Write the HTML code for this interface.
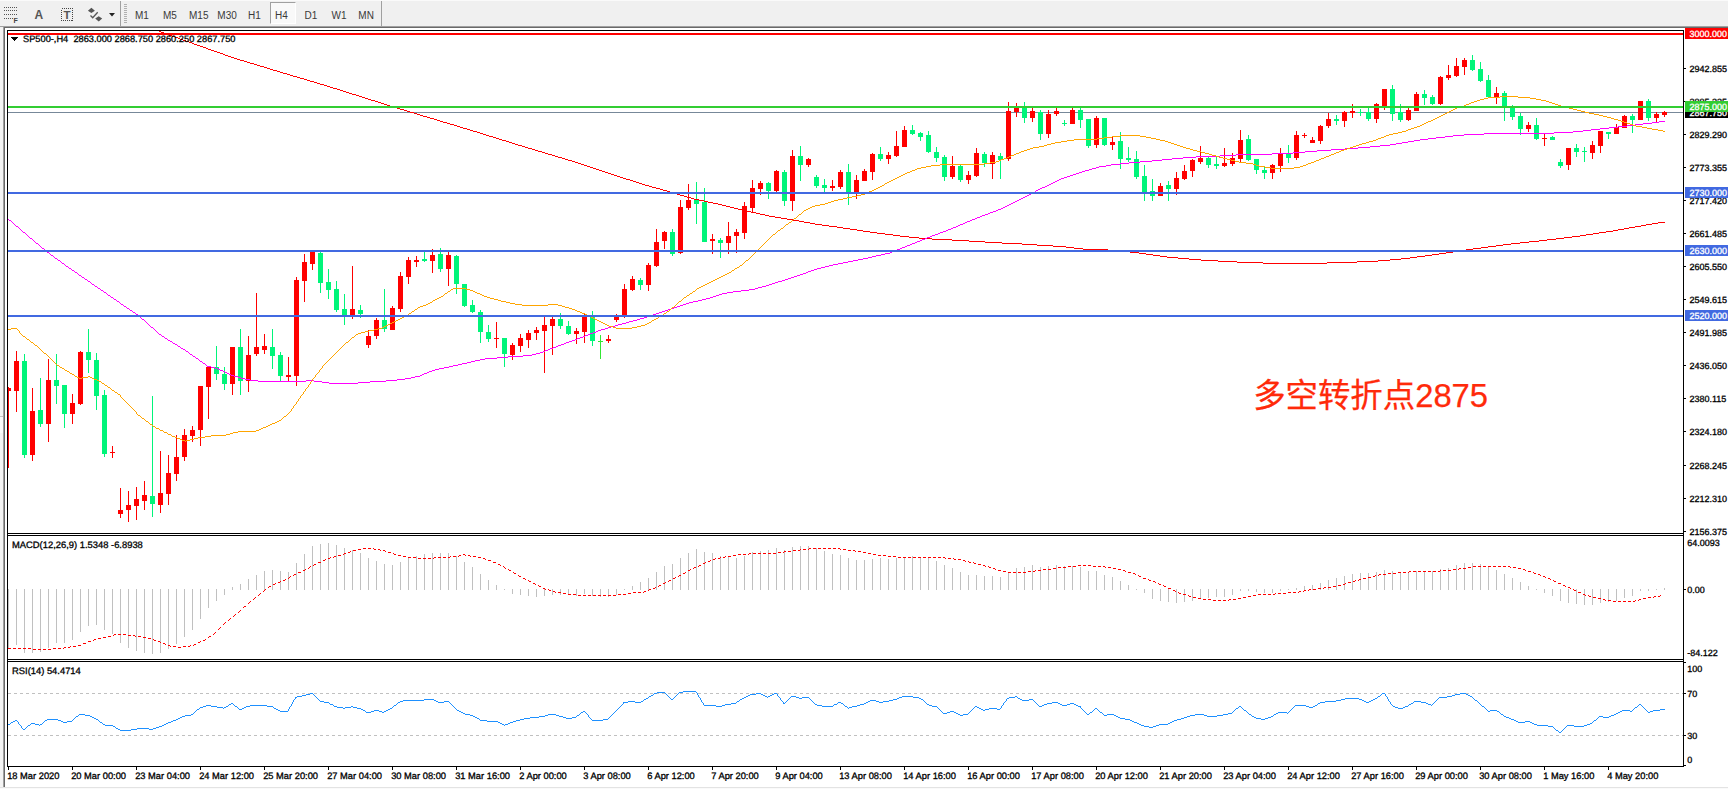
<!DOCTYPE html>
<html><head><meta charset="utf-8"><title>SP500-,H4</title>
<style>
html,body{margin:0;padding:0;background:#f0f0f0;}
body{width:1728px;height:789px;position:relative;overflow:hidden;font-family:"Liberation Sans", sans-serif;}
#tb{position:absolute;left:0;top:0;width:1728px;height:26px;background:#f0f0f0;box-shadow:inset 0 1px 0 #fafafa}
#tb .tf{position:absolute;top:9.8px;font-size:10px;line-height:11px;color:#3a3a3a;white-space:nowrap}
#tb .ic{position:absolute;line-height:1;color:#444}
#h4{position:absolute;left:270px;top:2px;width:26px;height:22px;box-sizing:border-box;background:#f9f9f9;border:1px solid #a0a0a0;border-right-color:#fff;border-bottom-color:#fff}
#chart{position:absolute;left:0;top:0}
#chart text{font-family:"Liberation Sans", sans-serif;white-space:pre;stroke-width:0.3px;paint-order:stroke}
#note{position:absolute;left:1253.2px;top:372.6px;font-family:"Liberation Sans","Noto Sans CJK SC",sans-serif;font-size:32.4px;line-height:46px;color:#ff2a0a;white-space:nowrap;letter-spacing:0px;-webkit-text-stroke:0.25px #ff2a0a}
</style></head><body>
<svg id="chart" width="1728" height="789" viewBox="0 0 1728 789" shape-rendering="crispEdges">
<rect x="5" y="28" width="1723" height="759" fill="#ffffff"/>
<rect x="0" y="28" width="3" height="759" fill="#f4f4f4"/>
<rect x="0" y="416" width="3" height="1" fill="#c4c4c4"/>
<rect x="0" y="417" width="3" height="16" fill="#fbfbfb"/>
<rect x="3" y="26" width="1" height="761" fill="#a0a0a0"/>
<rect x="4" y="27" width="1" height="760" fill="#696969"/>
<rect x="0" y="26" width="1728" height="1" fill="#a0a0a0"/>
<rect x="4" y="27" width="1724" height="1" fill="#696969"/>
<rect x="0" y="787" width="1728" height="1" fill="#e3e3e3"/>
<rect x="0" y="788" width="1728" height="1" fill="#fafafa"/>
<defs><clipPath id="cm"><rect x="8" y="31" width="1675" height="502"/></clipPath></defs>
<g clip-path="url(#cm)">
<rect x="8" y="112" width="1675" height="1" fill="#778899"/>
<rect x="8" y="387" width="1" height="81" fill="#ff0000"/>
<rect x="6" y="388" width="5" height="3" fill="#ff0000"/>
<rect x="16" y="351" width="1" height="61" fill="#ff0000"/>
<rect x="14" y="361" width="5" height="30" fill="#ff0000"/>
<rect x="24" y="354" width="1" height="104" fill="#00f57a"/>
<rect x="22" y="361" width="5" height="94" fill="#00f57a"/>
<rect x="32" y="388" width="1" height="73" fill="#ff0000"/>
<rect x="30" y="411" width="5" height="44" fill="#ff0000"/>
<rect x="40" y="378" width="1" height="49" fill="#00f57a"/>
<rect x="38" y="410" width="5" height="14" fill="#00f57a"/>
<rect x="48" y="359" width="1" height="83" fill="#ff0000"/>
<rect x="46" y="380" width="5" height="44" fill="#ff0000"/>
<rect x="56" y="354" width="1" height="50" fill="#00f57a"/>
<rect x="54" y="380" width="5" height="6" fill="#00f57a"/>
<rect x="64" y="385" width="1" height="43" fill="#00f57a"/>
<rect x="62" y="385" width="5" height="29" fill="#00f57a"/>
<rect x="72" y="394" width="1" height="30" fill="#ff0000"/>
<rect x="70" y="403" width="5" height="11" fill="#ff0000"/>
<rect x="80" y="351" width="1" height="54" fill="#ff0000"/>
<rect x="78" y="352" width="5" height="52" fill="#ff0000"/>
<rect x="88" y="329" width="1" height="44" fill="#00f57a"/>
<rect x="86" y="352" width="5" height="8" fill="#00f57a"/>
<rect x="96" y="353" width="1" height="57" fill="#00f57a"/>
<rect x="94" y="360" width="5" height="36" fill="#00f57a"/>
<rect x="104" y="390" width="1" height="67" fill="#00f57a"/>
<rect x="102" y="395" width="5" height="59" fill="#00f57a"/>
<rect x="112" y="446" width="1" height="12" fill="#ff0000"/>
<rect x="110" y="452" width="5" height="1" fill="#ff0000"/>
<rect x="120" y="488" width="1" height="30" fill="#ff0000"/>
<rect x="118" y="510" width="5" height="4" fill="#ff0000"/>
<rect x="128" y="491" width="1" height="31" fill="#ff0000"/>
<rect x="126" y="505" width="5" height="5" fill="#ff0000"/>
<rect x="136" y="487" width="1" height="33" fill="#ff0000"/>
<rect x="134" y="499" width="5" height="7" fill="#ff0000"/>
<rect x="144" y="481" width="1" height="29" fill="#ff0000"/>
<rect x="142" y="495" width="5" height="6" fill="#ff0000"/>
<rect x="152" y="396" width="1" height="121" fill="#00f57a"/>
<rect x="150" y="496" width="5" height="8" fill="#00f57a"/>
<rect x="160" y="451" width="1" height="62" fill="#ff0000"/>
<rect x="158" y="493" width="5" height="12" fill="#ff0000"/>
<rect x="168" y="455" width="1" height="50" fill="#ff0000"/>
<rect x="166" y="473" width="5" height="21" fill="#ff0000"/>
<rect x="176" y="435" width="1" height="46" fill="#ff0000"/>
<rect x="174" y="457" width="5" height="17" fill="#ff0000"/>
<rect x="184" y="429" width="1" height="32" fill="#ff0000"/>
<rect x="182" y="435" width="5" height="22" fill="#ff0000"/>
<rect x="192" y="426" width="1" height="16" fill="#ff0000"/>
<rect x="190" y="430" width="5" height="6" fill="#ff0000"/>
<rect x="200" y="386" width="1" height="60" fill="#ff0000"/>
<rect x="198" y="386" width="5" height="44" fill="#ff0000"/>
<rect x="208" y="367" width="1" height="52" fill="#ff0000"/>
<rect x="206" y="367" width="5" height="20" fill="#ff0000"/>
<rect x="216" y="346" width="1" height="34" fill="#00f57a"/>
<rect x="214" y="367" width="5" height="7" fill="#00f57a"/>
<rect x="224" y="367" width="1" height="23" fill="#00f57a"/>
<rect x="222" y="374" width="5" height="10" fill="#00f57a"/>
<rect x="232" y="347" width="1" height="48" fill="#ff0000"/>
<rect x="230" y="347" width="5" height="37" fill="#ff0000"/>
<rect x="240" y="329" width="1" height="66" fill="#00f57a"/>
<rect x="238" y="347" width="5" height="34" fill="#00f57a"/>
<rect x="248" y="336" width="1" height="56" fill="#ff0000"/>
<rect x="246" y="355" width="5" height="26" fill="#ff0000"/>
<rect x="256" y="293" width="1" height="63" fill="#ff0000"/>
<rect x="254" y="347" width="5" height="7" fill="#ff0000"/>
<rect x="264" y="334" width="1" height="20" fill="#ff0000"/>
<rect x="262" y="346" width="5" height="4" fill="#ff0000"/>
<rect x="272" y="329" width="1" height="40" fill="#00f57a"/>
<rect x="270" y="347" width="5" height="9" fill="#00f57a"/>
<rect x="280" y="352" width="1" height="29" fill="#00f57a"/>
<rect x="278" y="355" width="5" height="21" fill="#00f57a"/>
<rect x="288" y="357" width="1" height="24" fill="#ff0000"/>
<rect x="286" y="375" width="5" height="2" fill="#ff0000"/>
<rect x="296" y="277" width="1" height="109" fill="#ff0000"/>
<rect x="294" y="280" width="5" height="96" fill="#ff0000"/>
<rect x="304" y="254" width="1" height="48" fill="#ff0000"/>
<rect x="302" y="262" width="5" height="19" fill="#ff0000"/>
<rect x="312" y="251" width="1" height="19" fill="#ff0000"/>
<rect x="310" y="252" width="5" height="12" fill="#ff0000"/>
<rect x="320" y="252" width="1" height="41" fill="#00f57a"/>
<rect x="318" y="253" width="5" height="30" fill="#00f57a"/>
<rect x="328" y="269" width="1" height="30" fill="#00f57a"/>
<rect x="326" y="282" width="5" height="8" fill="#00f57a"/>
<rect x="336" y="281" width="1" height="31" fill="#00f57a"/>
<rect x="334" y="289" width="5" height="21" fill="#00f57a"/>
<rect x="344" y="294" width="1" height="31" fill="#00f57a"/>
<rect x="342" y="309" width="5" height="7" fill="#00f57a"/>
<rect x="352" y="266" width="1" height="53" fill="#ff0000"/>
<rect x="350" y="309" width="5" height="6" fill="#ff0000"/>
<rect x="360" y="305" width="1" height="13" fill="#00f57a"/>
<rect x="358" y="310" width="5" height="4" fill="#00f57a"/>
<rect x="368" y="330" width="1" height="18" fill="#ff0000"/>
<rect x="366" y="336" width="5" height="9" fill="#ff0000"/>
<rect x="376" y="318" width="1" height="21" fill="#ff0000"/>
<rect x="374" y="320" width="5" height="16" fill="#ff0000"/>
<rect x="384" y="289" width="1" height="43" fill="#00f57a"/>
<rect x="382" y="320" width="5" height="9" fill="#00f57a"/>
<rect x="392" y="306" width="1" height="24" fill="#ff0000"/>
<rect x="390" y="308" width="5" height="22" fill="#ff0000"/>
<rect x="400" y="272" width="1" height="40" fill="#ff0000"/>
<rect x="398" y="276" width="5" height="33" fill="#ff0000"/>
<rect x="408" y="257" width="1" height="27" fill="#ff0000"/>
<rect x="406" y="260" width="5" height="17" fill="#ff0000"/>
<rect x="416" y="256" width="1" height="11" fill="#ff0000"/>
<rect x="414" y="260" width="5" height="2" fill="#ff0000"/>
<rect x="424" y="252" width="1" height="10" fill="#00f57a"/>
<rect x="422" y="259" width="5" height="2" fill="#00f57a"/>
<rect x="432" y="249" width="1" height="24" fill="#ff0000"/>
<rect x="430" y="255" width="5" height="6" fill="#ff0000"/>
<rect x="440" y="248" width="1" height="24" fill="#00f57a"/>
<rect x="438" y="254" width="5" height="15" fill="#00f57a"/>
<rect x="448" y="252" width="1" height="34" fill="#ff0000"/>
<rect x="446" y="255" width="5" height="14" fill="#ff0000"/>
<rect x="456" y="255" width="1" height="39" fill="#00f57a"/>
<rect x="454" y="256" width="5" height="28" fill="#00f57a"/>
<rect x="464" y="284" width="1" height="23" fill="#00f57a"/>
<rect x="462" y="284" width="5" height="22" fill="#00f57a"/>
<rect x="472" y="300" width="1" height="13" fill="#00f57a"/>
<rect x="470" y="305" width="5" height="7" fill="#00f57a"/>
<rect x="480" y="310" width="1" height="33" fill="#00f57a"/>
<rect x="478" y="312" width="5" height="20" fill="#00f57a"/>
<rect x="488" y="325" width="1" height="17" fill="#00f57a"/>
<rect x="486" y="332" width="5" height="7" fill="#00f57a"/>
<rect x="496" y="322" width="1" height="26" fill="#ff0000"/>
<rect x="494" y="338" width="5" height="1" fill="#ff0000"/>
<rect x="504" y="338" width="1" height="29" fill="#00f57a"/>
<rect x="502" y="338" width="5" height="16" fill="#00f57a"/>
<rect x="512" y="343" width="1" height="17" fill="#ff0000"/>
<rect x="510" y="345" width="5" height="10" fill="#ff0000"/>
<rect x="520" y="334" width="1" height="18" fill="#ff0000"/>
<rect x="518" y="338" width="5" height="8" fill="#ff0000"/>
<rect x="528" y="330" width="1" height="18" fill="#ff0000"/>
<rect x="526" y="333" width="5" height="7" fill="#ff0000"/>
<rect x="536" y="327" width="1" height="13" fill="#ff0000"/>
<rect x="534" y="330" width="5" height="3" fill="#ff0000"/>
<rect x="544" y="317" width="1" height="56" fill="#ff0000"/>
<rect x="542" y="325" width="5" height="6" fill="#ff0000"/>
<rect x="552" y="317" width="1" height="38" fill="#ff0000"/>
<rect x="550" y="319" width="5" height="7" fill="#ff0000"/>
<rect x="560" y="313" width="1" height="16" fill="#00f57a"/>
<rect x="558" y="319" width="5" height="7" fill="#00f57a"/>
<rect x="568" y="321" width="1" height="14" fill="#00f57a"/>
<rect x="566" y="326" width="5" height="8" fill="#00f57a"/>
<rect x="576" y="328" width="1" height="16" fill="#ff0000"/>
<rect x="574" y="331" width="5" height="3" fill="#ff0000"/>
<rect x="584" y="313" width="1" height="30" fill="#ff0000"/>
<rect x="582" y="315" width="5" height="17" fill="#ff0000"/>
<rect x="592" y="311" width="1" height="35" fill="#00f57a"/>
<rect x="590" y="317" width="5" height="24" fill="#00f57a"/>
<rect x="600" y="335" width="1" height="24" fill="#32e632"/>
<rect x="598" y="341" width="5" height="1" fill="#32e632"/>
<rect x="608" y="335" width="1" height="8" fill="#ff0000"/>
<rect x="606" y="339" width="5" height="2" fill="#ff0000"/>
<rect x="616" y="314" width="1" height="8" fill="#ff0000"/>
<rect x="614" y="317" width="5" height="3" fill="#ff0000"/>
<rect x="624" y="284" width="1" height="34" fill="#ff0000"/>
<rect x="622" y="289" width="5" height="28" fill="#ff0000"/>
<rect x="632" y="276" width="1" height="15" fill="#ff0000"/>
<rect x="630" y="279" width="5" height="11" fill="#ff0000"/>
<rect x="640" y="278" width="1" height="12" fill="#00f57a"/>
<rect x="638" y="280" width="5" height="5" fill="#00f57a"/>
<rect x="648" y="263" width="1" height="28" fill="#ff0000"/>
<rect x="646" y="265" width="5" height="20" fill="#ff0000"/>
<rect x="656" y="229" width="1" height="38" fill="#ff0000"/>
<rect x="654" y="242" width="5" height="24" fill="#ff0000"/>
<rect x="664" y="231" width="1" height="18" fill="#ff0000"/>
<rect x="662" y="232" width="5" height="9" fill="#ff0000"/>
<rect x="672" y="229" width="1" height="27" fill="#00f57a"/>
<rect x="670" y="232" width="5" height="22" fill="#00f57a"/>
<rect x="680" y="200" width="1" height="54" fill="#ff0000"/>
<rect x="678" y="207" width="5" height="46" fill="#ff0000"/>
<rect x="688" y="184" width="1" height="26" fill="#ff0000"/>
<rect x="686" y="200" width="5" height="8" fill="#ff0000"/>
<rect x="696" y="182" width="1" height="42" fill="#00f57a"/>
<rect x="694" y="199" width="5" height="5" fill="#00f57a"/>
<rect x="704" y="188" width="1" height="54" fill="#00f57a"/>
<rect x="702" y="202" width="5" height="40" fill="#00f57a"/>
<rect x="712" y="234" width="1" height="20" fill="#ff0000"/>
<rect x="710" y="239" width="5" height="2" fill="#ff0000"/>
<rect x="720" y="238" width="1" height="20" fill="#00f57a"/>
<rect x="718" y="240" width="5" height="3" fill="#00f57a"/>
<rect x="728" y="222" width="1" height="32" fill="#ff0000"/>
<rect x="726" y="236" width="5" height="7" fill="#ff0000"/>
<rect x="736" y="229" width="1" height="24" fill="#ff0000"/>
<rect x="734" y="232" width="5" height="4" fill="#ff0000"/>
<rect x="744" y="202" width="1" height="37" fill="#ff0000"/>
<rect x="742" y="206" width="5" height="27" fill="#ff0000"/>
<rect x="752" y="180" width="1" height="32" fill="#ff0000"/>
<rect x="750" y="188" width="5" height="20" fill="#ff0000"/>
<rect x="760" y="181" width="1" height="14" fill="#ff0000"/>
<rect x="758" y="183" width="5" height="6" fill="#ff0000"/>
<rect x="768" y="182" width="1" height="17" fill="#00f57a"/>
<rect x="766" y="183" width="5" height="8" fill="#00f57a"/>
<rect x="776" y="170" width="1" height="22" fill="#ff0000"/>
<rect x="774" y="171" width="5" height="20" fill="#ff0000"/>
<rect x="784" y="170" width="1" height="36" fill="#00f57a"/>
<rect x="782" y="172" width="5" height="29" fill="#00f57a"/>
<rect x="792" y="150" width="1" height="61" fill="#ff0000"/>
<rect x="790" y="156" width="5" height="45" fill="#ff0000"/>
<rect x="800" y="146" width="1" height="35" fill="#00f57a"/>
<rect x="798" y="156" width="5" height="9" fill="#00f57a"/>
<rect x="808" y="158" width="1" height="9" fill="#ff0000"/>
<rect x="806" y="159" width="5" height="6" fill="#ff0000"/>
<rect x="816" y="175" width="1" height="13" fill="#00f57a"/>
<rect x="814" y="177" width="5" height="9" fill="#00f57a"/>
<rect x="824" y="179" width="1" height="13" fill="#00f57a"/>
<rect x="822" y="185" width="5" height="3" fill="#00f57a"/>
<rect x="832" y="180" width="1" height="11" fill="#ff0000"/>
<rect x="830" y="186" width="5" height="2" fill="#ff0000"/>
<rect x="840" y="170" width="1" height="19" fill="#ff0000"/>
<rect x="838" y="172" width="5" height="15" fill="#ff0000"/>
<rect x="848" y="164" width="1" height="41" fill="#00f57a"/>
<rect x="846" y="172" width="5" height="20" fill="#00f57a"/>
<rect x="856" y="175" width="1" height="24" fill="#ff0000"/>
<rect x="854" y="180" width="5" height="12" fill="#ff0000"/>
<rect x="864" y="169" width="1" height="12" fill="#ff0000"/>
<rect x="862" y="171" width="5" height="10" fill="#ff0000"/>
<rect x="872" y="153" width="1" height="27" fill="#ff0000"/>
<rect x="870" y="154" width="5" height="18" fill="#ff0000"/>
<rect x="880" y="147" width="1" height="14" fill="#00f57a"/>
<rect x="878" y="154" width="5" height="5" fill="#00f57a"/>
<rect x="888" y="152" width="1" height="12" fill="#ff0000"/>
<rect x="886" y="155" width="5" height="4" fill="#ff0000"/>
<rect x="896" y="131" width="1" height="26" fill="#ff0000"/>
<rect x="894" y="146" width="5" height="10" fill="#ff0000"/>
<rect x="904" y="126" width="1" height="21" fill="#ff0000"/>
<rect x="902" y="130" width="5" height="17" fill="#ff0000"/>
<rect x="912" y="125" width="1" height="10" fill="#00f57a"/>
<rect x="910" y="130" width="5" height="4" fill="#00f57a"/>
<rect x="920" y="132" width="1" height="9" fill="#00f57a"/>
<rect x="918" y="133" width="5" height="4" fill="#00f57a"/>
<rect x="928" y="131" width="1" height="22" fill="#00f57a"/>
<rect x="926" y="135" width="5" height="17" fill="#00f57a"/>
<rect x="936" y="147" width="1" height="15" fill="#00f57a"/>
<rect x="934" y="152" width="5" height="6" fill="#00f57a"/>
<rect x="944" y="155" width="1" height="26" fill="#00f57a"/>
<rect x="942" y="157" width="5" height="20" fill="#00f57a"/>
<rect x="952" y="156" width="1" height="23" fill="#ff0000"/>
<rect x="950" y="166" width="5" height="11" fill="#ff0000"/>
<rect x="960" y="165" width="1" height="17" fill="#00f57a"/>
<rect x="958" y="166" width="5" height="14" fill="#00f57a"/>
<rect x="968" y="171" width="1" height="13" fill="#ff0000"/>
<rect x="966" y="175" width="5" height="5" fill="#ff0000"/>
<rect x="976" y="148" width="1" height="29" fill="#ff0000"/>
<rect x="974" y="153" width="5" height="23" fill="#ff0000"/>
<rect x="984" y="152" width="1" height="15" fill="#00f57a"/>
<rect x="982" y="154" width="5" height="9" fill="#00f57a"/>
<rect x="992" y="152" width="1" height="27" fill="#ff0000"/>
<rect x="990" y="155" width="5" height="9" fill="#ff0000"/>
<rect x="1000" y="153" width="1" height="26" fill="#00f57a"/>
<rect x="998" y="156" width="5" height="4" fill="#00f57a"/>
<rect x="1008" y="102" width="1" height="59" fill="#ff0000"/>
<rect x="1006" y="111" width="5" height="48" fill="#ff0000"/>
<rect x="1016" y="103" width="1" height="14" fill="#ff0000"/>
<rect x="1014" y="107" width="5" height="5" fill="#ff0000"/>
<rect x="1024" y="102" width="1" height="21" fill="#00f57a"/>
<rect x="1022" y="107" width="5" height="11" fill="#00f57a"/>
<rect x="1032" y="108" width="1" height="14" fill="#ff0000"/>
<rect x="1030" y="111" width="5" height="7" fill="#ff0000"/>
<rect x="1040" y="110" width="1" height="30" fill="#00f57a"/>
<rect x="1038" y="112" width="5" height="22" fill="#00f57a"/>
<rect x="1048" y="110" width="1" height="28" fill="#ff0000"/>
<rect x="1046" y="114" width="5" height="20" fill="#ff0000"/>
<rect x="1056" y="108" width="1" height="8" fill="#ff0000"/>
<rect x="1054" y="111" width="5" height="3" fill="#ff0000"/>
<rect x="1064" y="120" width="1" height="6" fill="#00f57a"/>
<rect x="1062" y="123" width="5" height="1" fill="#00f57a"/>
<rect x="1072" y="108" width="1" height="16" fill="#ff0000"/>
<rect x="1070" y="110" width="5" height="14" fill="#ff0000"/>
<rect x="1080" y="108" width="1" height="20" fill="#00f57a"/>
<rect x="1078" y="110" width="5" height="10" fill="#00f57a"/>
<rect x="1088" y="119" width="1" height="29" fill="#00f57a"/>
<rect x="1086" y="119" width="5" height="27" fill="#00f57a"/>
<rect x="1096" y="116" width="1" height="32" fill="#ff0000"/>
<rect x="1094" y="118" width="5" height="27" fill="#ff0000"/>
<rect x="1104" y="118" width="1" height="28" fill="#00f57a"/>
<rect x="1102" y="118" width="5" height="27" fill="#00f57a"/>
<rect x="1112" y="137" width="1" height="13" fill="#ff0000"/>
<rect x="1110" y="142" width="5" height="3" fill="#ff0000"/>
<rect x="1120" y="132" width="1" height="37" fill="#00f57a"/>
<rect x="1118" y="141" width="5" height="18" fill="#00f57a"/>
<rect x="1128" y="147" width="1" height="15" fill="#00f57a"/>
<rect x="1126" y="158" width="5" height="2" fill="#00f57a"/>
<rect x="1136" y="151" width="1" height="28" fill="#00f57a"/>
<rect x="1134" y="159" width="5" height="18" fill="#00f57a"/>
<rect x="1144" y="165" width="1" height="36" fill="#00f57a"/>
<rect x="1142" y="176" width="5" height="16" fill="#00f57a"/>
<rect x="1152" y="179" width="1" height="22" fill="#00f57a"/>
<rect x="1150" y="191" width="5" height="5" fill="#00f57a"/>
<rect x="1160" y="183" width="1" height="13" fill="#ff0000"/>
<rect x="1158" y="186" width="5" height="10" fill="#ff0000"/>
<rect x="1168" y="181" width="1" height="20" fill="#00f57a"/>
<rect x="1166" y="185" width="5" height="4" fill="#00f57a"/>
<rect x="1176" y="172" width="1" height="23" fill="#ff0000"/>
<rect x="1174" y="178" width="5" height="11" fill="#ff0000"/>
<rect x="1184" y="165" width="1" height="15" fill="#ff0000"/>
<rect x="1182" y="171" width="5" height="8" fill="#ff0000"/>
<rect x="1192" y="159" width="1" height="18" fill="#ff0000"/>
<rect x="1190" y="160" width="5" height="11" fill="#ff0000"/>
<rect x="1200" y="146" width="1" height="18" fill="#ff0000"/>
<rect x="1198" y="158" width="5" height="4" fill="#ff0000"/>
<rect x="1208" y="157" width="1" height="11" fill="#00f57a"/>
<rect x="1206" y="158" width="5" height="7" fill="#00f57a"/>
<rect x="1216" y="156" width="1" height="13" fill="#00f57a"/>
<rect x="1214" y="164" width="5" height="2" fill="#00f57a"/>
<rect x="1224" y="148" width="1" height="19" fill="#ff0000"/>
<rect x="1222" y="163" width="5" height="3" fill="#ff0000"/>
<rect x="1232" y="153" width="1" height="13" fill="#ff0000"/>
<rect x="1230" y="158" width="5" height="6" fill="#ff0000"/>
<rect x="1240" y="130" width="1" height="32" fill="#ff0000"/>
<rect x="1238" y="140" width="5" height="19" fill="#ff0000"/>
<rect x="1248" y="135" width="1" height="26" fill="#00f57a"/>
<rect x="1246" y="139" width="5" height="21" fill="#00f57a"/>
<rect x="1256" y="159" width="1" height="15" fill="#00f57a"/>
<rect x="1254" y="159" width="5" height="11" fill="#00f57a"/>
<rect x="1264" y="166" width="1" height="13" fill="#00f57a"/>
<rect x="1262" y="170" width="5" height="3" fill="#00f57a"/>
<rect x="1272" y="164" width="1" height="15" fill="#ff0000"/>
<rect x="1270" y="165" width="5" height="8" fill="#ff0000"/>
<rect x="1280" y="148" width="1" height="24" fill="#ff0000"/>
<rect x="1278" y="154" width="5" height="12" fill="#ff0000"/>
<rect x="1288" y="145" width="1" height="18" fill="#00f57a"/>
<rect x="1286" y="154" width="5" height="4" fill="#00f57a"/>
<rect x="1296" y="131" width="1" height="29" fill="#ff0000"/>
<rect x="1294" y="135" width="5" height="23" fill="#ff0000"/>
<rect x="1304" y="133" width="1" height="5" fill="#ff0000"/>
<rect x="1302" y="135" width="5" height="1" fill="#ff0000"/>
<rect x="1312" y="137" width="1" height="6" fill="#ff0000"/>
<rect x="1310" y="140" width="5" height="3" fill="#ff0000"/>
<rect x="1320" y="125" width="1" height="19" fill="#ff0000"/>
<rect x="1318" y="126" width="5" height="15" fill="#ff0000"/>
<rect x="1328" y="113" width="1" height="15" fill="#ff0000"/>
<rect x="1326" y="119" width="5" height="7" fill="#ff0000"/>
<rect x="1336" y="115" width="1" height="10" fill="#00f57a"/>
<rect x="1334" y="119" width="5" height="2" fill="#00f57a"/>
<rect x="1344" y="111" width="1" height="16" fill="#ff0000"/>
<rect x="1342" y="112" width="5" height="9" fill="#ff0000"/>
<rect x="1352" y="104" width="1" height="14" fill="#ff0000"/>
<rect x="1350" y="111" width="5" height="2" fill="#ff0000"/>
<rect x="1360" y="109" width="1" height="7" fill="#00f57a"/>
<rect x="1358" y="112" width="5" height="1" fill="#00f57a"/>
<rect x="1368" y="108" width="1" height="13" fill="#00f57a"/>
<rect x="1366" y="112" width="5" height="7" fill="#00f57a"/>
<rect x="1376" y="103" width="1" height="20" fill="#ff0000"/>
<rect x="1374" y="104" width="5" height="15" fill="#ff0000"/>
<rect x="1384" y="89" width="1" height="21" fill="#ff0000"/>
<rect x="1382" y="89" width="5" height="17" fill="#ff0000"/>
<rect x="1392" y="85" width="1" height="36" fill="#00f57a"/>
<rect x="1390" y="89" width="5" height="25" fill="#00f57a"/>
<rect x="1400" y="104" width="1" height="18" fill="#00f57a"/>
<rect x="1398" y="112" width="5" height="8" fill="#00f57a"/>
<rect x="1408" y="108" width="1" height="13" fill="#ff0000"/>
<rect x="1406" y="110" width="5" height="10" fill="#ff0000"/>
<rect x="1416" y="92" width="1" height="19" fill="#ff0000"/>
<rect x="1414" y="94" width="5" height="17" fill="#ff0000"/>
<rect x="1424" y="90" width="1" height="15" fill="#00f57a"/>
<rect x="1422" y="94" width="5" height="4" fill="#00f57a"/>
<rect x="1432" y="95" width="1" height="10" fill="#00f57a"/>
<rect x="1430" y="97" width="5" height="7" fill="#00f57a"/>
<rect x="1440" y="76" width="1" height="29" fill="#ff0000"/>
<rect x="1438" y="77" width="5" height="27" fill="#ff0000"/>
<rect x="1448" y="65" width="1" height="15" fill="#ff0000"/>
<rect x="1446" y="75" width="5" height="3" fill="#ff0000"/>
<rect x="1456" y="58" width="1" height="19" fill="#ff0000"/>
<rect x="1454" y="66" width="5" height="10" fill="#ff0000"/>
<rect x="1464" y="58" width="1" height="17" fill="#ff0000"/>
<rect x="1462" y="60" width="5" height="7" fill="#ff0000"/>
<rect x="1472" y="55" width="1" height="16" fill="#00f57a"/>
<rect x="1470" y="60" width="5" height="10" fill="#00f57a"/>
<rect x="1480" y="62" width="1" height="20" fill="#00f57a"/>
<rect x="1478" y="69" width="5" height="12" fill="#00f57a"/>
<rect x="1488" y="75" width="1" height="22" fill="#00f57a"/>
<rect x="1486" y="80" width="5" height="17" fill="#00f57a"/>
<rect x="1496" y="87" width="1" height="17" fill="#ff0000"/>
<rect x="1494" y="93" width="5" height="5" fill="#ff0000"/>
<rect x="1504" y="91" width="1" height="30" fill="#00f57a"/>
<rect x="1502" y="93" width="5" height="15" fill="#00f57a"/>
<rect x="1512" y="105" width="1" height="15" fill="#00f57a"/>
<rect x="1510" y="107" width="5" height="10" fill="#00f57a"/>
<rect x="1520" y="113" width="1" height="22" fill="#00f57a"/>
<rect x="1518" y="116" width="5" height="13" fill="#00f57a"/>
<rect x="1528" y="122" width="1" height="10" fill="#ff0000"/>
<rect x="1526" y="125" width="5" height="4" fill="#ff0000"/>
<rect x="1536" y="118" width="1" height="22" fill="#00f57a"/>
<rect x="1534" y="125" width="5" height="14" fill="#00f57a"/>
<rect x="1544" y="134" width="1" height="12" fill="#ff0000"/>
<rect x="1542" y="138" width="5" height="1" fill="#ff0000"/>
<rect x="1552" y="136" width="1" height="4" fill="#00f57a"/>
<rect x="1550" y="137" width="5" height="3" fill="#00f57a"/>
<rect x="1560" y="159" width="1" height="9" fill="#00f57a"/>
<rect x="1558" y="162" width="5" height="4" fill="#00f57a"/>
<rect x="1568" y="148" width="1" height="22" fill="#ff0000"/>
<rect x="1566" y="148" width="5" height="17" fill="#ff0000"/>
<rect x="1576" y="144" width="1" height="13" fill="#00f57a"/>
<rect x="1574" y="148" width="5" height="4" fill="#00f57a"/>
<rect x="1584" y="147" width="1" height="15" fill="#00f57a"/>
<rect x="1582" y="151" width="5" height="1" fill="#00f57a"/>
<rect x="1592" y="141" width="1" height="18" fill="#ff0000"/>
<rect x="1590" y="145" width="5" height="8" fill="#ff0000"/>
<rect x="1600" y="131" width="1" height="22" fill="#ff0000"/>
<rect x="1598" y="131" width="5" height="15" fill="#ff0000"/>
<rect x="1608" y="132" width="1" height="7" fill="#00f57a"/>
<rect x="1606" y="132" width="5" height="2" fill="#00f57a"/>
<rect x="1616" y="124" width="1" height="10" fill="#ff0000"/>
<rect x="1614" y="127" width="5" height="7" fill="#ff0000"/>
<rect x="1624" y="115" width="1" height="13" fill="#ff0000"/>
<rect x="1622" y="116" width="5" height="12" fill="#ff0000"/>
<rect x="1632" y="114" width="1" height="19" fill="#00f57a"/>
<rect x="1630" y="116" width="5" height="4" fill="#00f57a"/>
<rect x="1640" y="101" width="1" height="19" fill="#ff0000"/>
<rect x="1638" y="101" width="5" height="19" fill="#ff0000"/>
<rect x="1648" y="99" width="1" height="22" fill="#00f57a"/>
<rect x="1646" y="101" width="5" height="17" fill="#00f57a"/>
<rect x="1656" y="112" width="1" height="10" fill="#ff0000"/>
<rect x="1654" y="114" width="5" height="4" fill="#ff0000"/>
<rect x="1664" y="111" width="1" height="6" fill="#ff0000"/>
<rect x="1662" y="112" width="5" height="3" fill="#ff0000"/>
<path d="M159 31h2v1h-2zM161 32h3v1h-3zM164 33h2v1h-2zM166 34h3v1h-3zM169 35h3v1h-3zM172 36h3v1h-3zM175 37h3v1h-3zM178 38h2v1h-2zM180 39h3v1h-3zM183 40h3v1h-3zM186 41h3v1h-3zM189 42h3v1h-3zM192 43h2v1h-2zM194 44h3v1h-3zM197 45h3v1h-3zM200 46h3v1h-3zM203 47h3v1h-3zM206 48h2v1h-2zM208 49h3v1h-3zM211 50h3v1h-3zM214 51h3v1h-3zM217 52h3v1h-3zM220 53h3v1h-3zM223 54h2v1h-2zM225 55h3v1h-3zM228 56h3v1h-3zM231 57h3v1h-3zM234 58h3v1h-3zM237 59h3v1h-3zM240 60h4v1h-4zM244 61h3v1h-3zM247 62h3v1h-3zM250 63h4v1h-4zM254 64h3v1h-3zM257 65h3v1h-3zM260 66h4v1h-4zM264 67h3v1h-3zM267 68h3v1h-3zM270 69h3v1h-3zM273 70h4v1h-4zM277 71h3v1h-3zM280 72h3v1h-3zM283 73h4v1h-4zM287 74h3v1h-3zM290 75h3v1h-3zM293 76h4v1h-4zM297 77h3v1h-3zM300 78h4v1h-4zM304 79h3v1h-3zM307 80h3v1h-3zM310 81h4v1h-4zM314 82h3v1h-3zM317 83h3v1h-3zM320 84h4v1h-4zM324 85h3v1h-3zM327 86h3v1h-3zM330 87h3v1h-3zM333 88h4v1h-4zM337 89h3v1h-3zM340 90h3v1h-3zM343 91h3v1h-3zM346 92h3v1h-3zM349 93h3v1h-3zM352 94h4v1h-4zM356 95h3v1h-3zM359 96h3v1h-3zM362 97h3v1h-3zM365 98h3v1h-3zM368 99h3v1h-3zM371 100h4v1h-4zM375 101h3v1h-3zM378 102h3v1h-3zM381 103h3v1h-3zM384 104h3v1h-3zM387 105h3v1h-3zM390 106h4v1h-4zM394 107h3v1h-3zM397 108h3v1h-3zM400 109h4v1h-4zM404 110h3v1h-3zM407 111h3v1h-3zM410 112h4v1h-4zM414 113h3v1h-3zM417 114h3v1h-3zM420 115h3v1h-3zM423 116h4v1h-4zM427 117h3v1h-3zM430 118h4v1h-4zM434 119h3v1h-3zM437 120h3v1h-3zM440 121h3v1h-3zM443 122h4v1h-4zM447 123h3v1h-3zM450 124h4v1h-4zM454 125h3v1h-3zM457 126h3v1h-3zM460 127h3v1h-3zM463 128h4v1h-4zM467 129h3v1h-3zM470 130h3v1h-3zM473 131h4v1h-4zM477 132h3v1h-3zM480 133h3v1h-3zM483 134h3v1h-3zM486 135h3v1h-3zM489 136h4v1h-4zM493 137h3v1h-3zM496 138h3v1h-3zM499 139h3v1h-3zM502 140h4v1h-4zM506 141h3v1h-3zM509 142h3v1h-3zM512 143h3v1h-3zM515 144h3v1h-3zM518 145h4v1h-4zM522 146h3v1h-3zM525 147h3v1h-3zM528 148h4v1h-4zM532 149h3v1h-3zM535 150h3v1h-3zM538 151h4v1h-4zM542 152h3v1h-3zM545 153h3v1h-3zM548 154h4v1h-4zM552 155h3v1h-3zM555 156h3v1h-3zM558 157h4v1h-4zM562 158h3v1h-3zM565 159h3v1h-3zM568 160h4v1h-4zM572 161h3v1h-3zM575 162h3v1h-3zM578 163h3v1h-3zM581 164h3v1h-3zM584 165h3v1h-3zM587 166h3v1h-3zM590 167h3v1h-3zM593 168h3v1h-3zM596 169h3v1h-3zM599 170h3v1h-3zM602 171h3v1h-3zM605 172h3v1h-3zM608 173h3v1h-3zM611 174h3v1h-3zM614 175h3v1h-3zM617 176h3v1h-3zM620 177h3v1h-3zM623 178h3v1h-3zM626 179h4v1h-4zM630 180h3v1h-3zM633 181h3v1h-3zM636 182h3v1h-3zM639 183h3v1h-3zM642 184h3v1h-3zM645 185h4v1h-4zM649 186h3v1h-3zM652 187h4v1h-4zM656 188h4v1h-4zM660 189h3v1h-3zM663 190h4v1h-4zM667 191h3v1h-3zM670 192h4v1h-4zM674 193h3v1h-3zM677 194h3v1h-3zM680 195h4v1h-4zM684 196h3v1h-3zM687 197h4v1h-4zM691 198h3v1h-3zM694 199h5v1h-5zM699 200h5v1h-5zM704 201h4v1h-4zM708 202h5v1h-5zM713 203h5v1h-5zM718 204h4v1h-4zM722 205h4v1h-4zM726 206h4v1h-4zM730 207h4v1h-4zM734 208h4v1h-4zM738 209h4v1h-4zM742 210h4v1h-4zM746 211h5v1h-5zM751 212h5v1h-5zM756 213h4v1h-4zM760 214h5v1h-5zM765 215h4v1h-4zM769 216h6v1h-6zM775 217h6v1h-6zM781 218h6v1h-6zM787 219h6v1h-6zM793 220h6v1h-6zM799 221h5v1h-5zM804 222h6v1h-6zM810 223h5v1h-5zM815 224h7v1h-7zM822 225h7v1h-7zM829 226h8v1h-8zM837 227h6v1h-6zM843 228h7v1h-7zM850 229h7v1h-7zM857 230h6v1h-6zM863 231h7v1h-7zM870 232h7v1h-7zM877 233h8v1h-8zM885 234h8v1h-8zM893 235h7v1h-7zM900 236h9v1h-9zM909 237h10v1h-10zM919 238h13v1h-13zM932 239h20v1h-20zM952 240h17v1h-17zM969 241h16v1h-16zM985 242h17v1h-17zM1002 243h20v1h-20zM1022 244h15v1h-15zM1037 245h16v1h-16zM1053 246h13v1h-13zM1066 247h8v1h-8zM1074 248h9v1h-9zM1083 249h25v1h-25zM1108 250h11v1h-11zM1119 251h11v1h-11zM1130 252h9v1h-9zM1139 253h7v1h-7zM1146 254h7v1h-7zM1153 255h7v1h-7zM1160 256h7v1h-7zM1167 257h11v1h-11zM1178 258h11v1h-11zM1189 259h12v1h-12zM1201 260h17v1h-17zM1218 261h19v1h-19zM1237 262h26v1h-26zM1263 263h64v1h-64zM1327 262h30v1h-30zM1357 261h21v1h-21zM1378 260h12v1h-12zM1390 259h11v1h-11zM1401 258h9v1h-9zM1410 257h7v1h-7zM1417 256h8v1h-8zM1425 255h7v1h-7zM1432 254h7v1h-7zM1439 253h7v1h-7zM1446 252h7v1h-7zM1453 251h7v1h-7zM1460 250h6v1h-6zM1466 249h7v1h-7zM1473 248h8v1h-8zM1481 247h7v1h-7zM1488 246h8v1h-8zM1496 245h7v1h-7zM1503 244h8v1h-8zM1511 243h9v1h-9zM1520 242h9v1h-9zM1529 241h10v1h-10zM1539 240h8v1h-8zM1547 239h9v1h-9zM1556 238h8v1h-8zM1564 237h8v1h-8zM1572 236h8v1h-8zM1580 235h6v1h-6zM1586 234h7v1h-7zM1593 233h6v1h-6zM1599 232h7v1h-7zM1606 231h7v1h-7zM1613 230h5v1h-5zM1618 229h6v1h-6zM1624 228h5v1h-5zM1629 227h6v1h-6zM1635 226h6v1h-6zM1641 225h5v1h-5zM1646 224h6v1h-6zM1652 223h6v1h-6zM1658 222h7v1h-7z" fill="#ff0000"/>
<path d="M8 219h1v1h-1zM9 220h2v1h-2zM11 221h1v1h-1zM12 222h1v1h-1zM13 223h1v1h-1zM14 224h1v1h-1zM15 225h1v1h-1zM16 226h2v1h-2zM18 227h1v1h-1zM19 228h1v1h-1zM20 229h1v1h-1zM21 230h1v1h-1zM22 231h1v1h-1zM23 232h2v1h-2zM25 233h1v1h-1zM26 234h1v1h-1zM27 235h1v1h-1zM28 236h1v1h-1zM29 237h1v1h-1zM30 238h2v1h-2zM32 239h1v1h-1zM33 240h1v1h-1zM34 241h1v1h-1zM35 242h1v1h-1zM36 243h2v1h-2zM38 244h1v1h-1zM39 245h1v1h-1zM40 246h1v1h-1zM41 247h1v1h-1zM42 248h2v1h-2zM44 249h1v1h-1zM45 250h1v1h-1zM46 251h1v1h-1zM47 252h2v1h-2zM49 253h1v1h-1zM50 254h1v1h-1zM51 255h2v1h-2zM53 256h1v1h-1zM54 257h1v1h-1zM55 258h2v1h-2zM57 259h1v1h-1zM58 260h2v1h-2zM60 261h1v1h-1zM61 262h1v1h-1zM62 263h2v1h-2zM64 264h1v1h-1zM65 265h1v1h-1zM66 266h2v1h-2zM68 267h1v1h-1zM69 268h2v1h-2zM71 269h1v1h-1zM72 270h2v1h-2zM74 271h1v1h-1zM75 272h2v1h-2zM77 273h1v1h-1zM78 274h1v1h-1zM79 275h2v1h-2zM81 276h1v1h-1zM82 277h2v1h-2zM84 278h1v1h-1zM85 279h2v1h-2zM87 280h1v1h-1zM88 281h2v1h-2zM90 282h1v1h-1zM91 283h1v1h-1zM92 284h2v1h-2zM94 285h1v1h-1zM95 286h2v1h-2zM97 287h1v1h-1zM98 288h2v1h-2zM100 289h1v1h-1zM101 290h2v1h-2zM103 291h1v1h-1zM104 292h2v1h-2zM106 293h1v1h-1zM107 294h1v1h-1zM108 295h2v1h-2zM110 296h1v1h-1zM111 297h2v1h-2zM113 298h1v1h-1zM114 299h2v1h-2zM116 300h1v1h-1zM117 301h2v1h-2zM119 302h1v1h-1zM120 303h1v1h-1zM121 304h2v1h-2zM123 305h1v1h-1zM124 306h2v1h-2zM126 307h1v1h-1zM127 308h2v1h-2zM129 309h1v1h-1zM130 310h2v1h-2zM132 311h1v1h-1zM133 312h2v1h-2zM135 313h1v1h-1zM136 314h2v1h-2zM138 315h1v1h-1zM139 316h1v1h-1zM140 317h1v1h-1zM141 318h1v1h-1zM142 319h2v1h-2zM144 320h1v1h-1zM145 321h1v1h-1zM146 322h1v1h-1zM147 323h1v1h-1zM148 324h1v1h-1zM149 325h1v1h-1zM150 326h1v1h-1zM151 327h2v1h-2zM153 328h1v1h-1zM154 329h1v1h-1zM155 330h1v1h-1zM156 331h1v1h-1zM157 332h1v1h-1zM158 333h1v1h-1zM159 334h2v1h-2zM161 335h1v1h-1zM162 336h2v1h-2zM164 337h1v1h-1zM165 338h2v1h-2zM167 339h1v1h-1zM168 340h2v1h-2zM170 341h2v1h-2zM172 342h1v1h-1zM173 343h2v1h-2zM175 344h2v1h-2zM177 345h1v1h-1zM178 346h2v1h-2zM180 347h1v1h-1zM181 348h2v1h-2zM183 349h2v1h-2zM185 350h1v1h-1zM186 351h2v1h-2zM188 352h1v1h-1zM189 353h1v1h-1zM190 354h2v1h-2zM192 355h1v1h-1zM193 356h2v1h-2zM195 357h1v1h-1zM196 358h2v1h-2zM198 359h1v1h-1zM199 360h1v1h-1zM200 361h2v1h-2zM202 362h1v1h-1zM203 363h2v1h-2zM205 364h1v1h-1zM206 365h1v1h-1zM207 366h4v1h-4zM211 367h4v1h-4zM215 368h3v1h-3zM218 369h2v1h-2zM220 370h3v1h-3zM223 371h2v1h-2zM225 372h2v1h-2zM227 373h2v1h-2zM229 374h2v1h-2zM231 375h3v1h-3zM234 376h4v1h-4zM238 377h3v1h-3zM241 378h4v1h-4zM245 379h5v1h-5zM250 380h8v1h-8zM258 381h48v1h-48zM306 380h8v1h-8zM314 381h8v1h-8zM322 382h7v1h-7zM329 383h29v1h-29zM358 382h12v1h-12zM370 381h16v1h-16zM386 380h11v1h-11zM397 379h8v1h-8zM405 378h6v1h-6zM411 377h4v1h-4zM415 376h5v1h-5zM420 375h2v1h-2zM422 374h2v1h-2zM424 373h3v1h-3zM427 372h2v1h-2zM429 371h3v1h-3zM432 370h3v1h-3zM435 369h4v1h-4zM439 368h5v1h-5zM444 367h5v1h-5zM449 366h4v1h-4zM453 365h5v1h-5zM458 364h4v1h-4zM462 363h5v1h-5zM467 362h4v1h-4zM471 361h4v1h-4zM475 360h5v1h-5zM480 359h5v1h-5zM485 358h12v1h-12zM497 357h11v1h-11zM508 356h15v1h-15zM523 355h9v1h-9zM532 354h4v1h-4zM536 353h4v1h-4zM540 352h3v1h-3zM543 351h2v1h-2zM545 350h3v1h-3zM548 349h2v1h-2zM550 348h3v1h-3zM553 347h3v1h-3zM556 346h2v1h-2zM558 345h3v1h-3zM561 344h3v1h-3zM564 343h2v1h-2zM566 342h3v1h-3zM569 341h3v1h-3zM572 340h3v1h-3zM575 339h2v1h-2zM577 338h3v1h-3zM580 337h3v1h-3zM583 336h2v1h-2zM585 335h3v1h-3zM588 334h2v1h-2zM590 333h3v1h-3zM593 332h3v1h-3zM596 331h2v1h-2zM598 330h3v1h-3zM601 329h4v1h-4zM605 328h3v1h-3zM608 327h3v1h-3zM611 326h4v1h-4zM615 325h3v1h-3zM618 324h4v1h-4zM622 323h4v1h-4zM626 322h3v1h-3zM629 321h4v1h-4zM633 320h4v1h-4zM637 319h3v1h-3zM640 318h4v1h-4zM644 317h3v1h-3zM647 316h3v1h-3zM650 315h3v1h-3zM653 314h3v1h-3zM656 313h3v1h-3zM659 312h3v1h-3zM662 311h3v1h-3zM665 310h3v1h-3zM668 309h3v1h-3zM671 308h3v1h-3zM674 307h3v1h-3zM677 306h3v1h-3zM680 305h3v1h-3zM683 304h3v1h-3zM686 303h3v1h-3zM689 302h4v1h-4zM693 301h5v1h-5zM698 300h4v1h-4zM702 299h4v1h-4zM706 298h4v1h-4zM710 297h3v1h-3zM713 296h3v1h-3zM716 295h3v1h-3zM719 294h3v1h-3zM722 293h5v1h-5zM727 292h6v1h-6zM733 291h8v1h-8zM741 290h8v1h-8zM749 289h6v1h-6zM755 288h3v1h-3zM758 287h4v1h-4zM762 286h4v1h-4zM766 285h3v1h-3zM769 284h3v1h-3zM772 283h3v1h-3zM775 282h3v1h-3zM778 281h4v1h-4zM782 280h3v1h-3zM785 279h3v1h-3zM788 278h3v1h-3zM791 277h3v1h-3zM794 276h3v1h-3zM797 275h3v1h-3zM800 274h3v1h-3zM803 273h3v1h-3zM806 272h2v1h-2zM808 271h3v1h-3zM811 270h3v1h-3zM814 269h3v1h-3zM817 268h4v1h-4zM821 267h4v1h-4zM825 266h4v1h-4zM829 265h4v1h-4zM833 264h5v1h-5zM838 263h5v1h-5zM843 262h5v1h-5zM848 261h5v1h-5zM853 260h5v1h-5zM858 259h5v1h-5zM863 258h5v1h-5zM868 257h4v1h-4zM872 256h4v1h-4zM876 255h5v1h-5zM881 254h4v1h-4zM885 253h5v1h-5zM890 252h2v1h-2zM892 251h3v1h-3zM895 250h2v1h-2zM897 249h3v1h-3zM900 248h2v1h-2zM902 247h3v1h-3zM905 246h2v1h-2zM907 245h3v1h-3zM910 244h2v1h-2zM912 243h3v1h-3zM915 242h2v1h-2zM917 241h3v1h-3zM920 240h2v1h-2zM922 239h3v1h-3zM925 238h2v1h-2zM927 237h3v1h-3zM930 236h2v1h-2zM932 235h3v1h-3zM935 234h3v1h-3zM938 233h2v1h-2zM940 232h3v1h-3zM943 231h3v1h-3zM946 230h2v1h-2zM948 229h3v1h-3zM951 228h2v1h-2zM953 227h3v1h-3zM956 226h2v1h-2zM958 225h2v1h-2zM960 224h3v1h-3zM963 223h2v1h-2zM965 222h2v1h-2zM967 221h3v1h-3zM970 220h2v1h-2zM972 219h3v1h-3zM975 218h2v1h-2zM977 217h3v1h-3zM980 216h2v1h-2zM982 215h3v1h-3zM985 214h3v1h-3zM988 213h2v1h-2zM990 212h3v1h-3zM993 211h3v1h-3zM996 210h2v1h-2zM998 209h3v1h-3zM1001 208h2v1h-2zM1003 207h2v1h-2zM1005 206h2v1h-2zM1007 205h2v1h-2zM1009 204h2v1h-2zM1011 203h2v1h-2zM1013 202h2v1h-2zM1015 201h2v1h-2zM1017 200h2v1h-2zM1019 199h2v1h-2zM1021 198h2v1h-2zM1023 197h2v1h-2zM1025 196h2v1h-2zM1027 195h2v1h-2zM1029 194h2v1h-2zM1031 193h2v1h-2zM1033 192h2v1h-2zM1035 191h1v1h-1zM1036 190h2v1h-2zM1038 189h2v1h-2zM1040 188h2v1h-2zM1042 187h3v1h-3zM1045 186h2v1h-2zM1047 185h2v1h-2zM1049 184h2v1h-2zM1051 183h2v1h-2zM1053 182h2v1h-2zM1055 181h2v1h-2zM1057 180h2v1h-2zM1059 179h2v1h-2zM1061 178h3v1h-3zM1064 177h3v1h-3zM1067 176h3v1h-3zM1070 175h3v1h-3zM1073 174h3v1h-3zM1076 173h3v1h-3zM1079 172h3v1h-3zM1082 171h3v1h-3zM1085 170h4v1h-4zM1089 169h3v1h-3zM1092 168h4v1h-4zM1096 167h3v1h-3zM1099 166h7v1h-7zM1106 165h5v1h-5zM1111 164h9v1h-9zM1120 163h9v1h-9zM1129 162h11v1h-11zM1140 161h12v1h-12zM1152 160h10v1h-10zM1162 159h10v1h-10zM1172 158h11v1h-11zM1183 157h13v1h-13zM1196 156h24v1h-24zM1220 155h16v1h-16zM1236 154h36v1h-36zM1272 153h21v1h-21zM1293 152h12v1h-12zM1305 151h12v1h-12zM1317 150h14v1h-14zM1331 149h14v1h-14zM1345 148h13v1h-13zM1358 147h12v1h-12zM1370 146h10v1h-10zM1380 145h10v1h-10zM1390 144h6v1h-6zM1396 143h6v1h-6zM1402 142h6v1h-6zM1408 141h6v1h-6zM1414 140h6v1h-6zM1420 139h8v1h-8zM1428 138h8v1h-8zM1436 137h9v1h-9zM1445 136h8v1h-8zM1453 135h11v1h-11zM1464 134h20v1h-20zM1484 133h70v1h-70zM1554 132h19v1h-19zM1573 131h10v1h-10zM1583 130h8v1h-8zM1591 129h9v1h-9zM1600 128h9v1h-9zM1609 127h9v1h-9zM1618 126h9v1h-9zM1627 125h8v1h-8zM1635 124h8v1h-8zM1643 123h9v1h-9zM1652 122h7v1h-7zM1659 121h6v1h-6z" fill="#ff00ff"/>
<path d="M8 329h3v1h-3zM11 328h6v1h-6zM17 329h1v1h-1zM18 330h1v1h-1zM19 331h1v2h-1zM20 333h1v1h-1zM21 334h1v1h-1zM22 335h1v1h-1zM23 336h2v1h-2zM25 337h1v1h-1zM26 338h1v1h-1zM27 339h2v1h-2zM29 340h1v1h-1zM30 341h1v1h-1zM31 342h2v1h-2zM33 343h1v1h-1zM34 344h1v1h-1zM35 345h2v1h-2zM37 346h1v1h-1zM38 347h1v1h-1zM39 348h1v1h-1zM40 349h1v1h-1zM41 350h1v1h-1zM42 351h1v1h-1zM43 352h1v1h-1zM44 353h2v1h-2zM46 354h1v1h-1zM47 355h1v1h-1zM48 356h1v1h-1zM49 357h1v1h-1zM50 358h1v1h-1zM51 359h1v1h-1zM52 360h1v1h-1zM53 361h1v1h-1zM54 362h1v1h-1zM55 363h1v1h-1zM56 364h1v1h-1zM57 365h2v1h-2zM59 366h1v1h-1zM60 367h2v1h-2zM62 368h2v1h-2zM64 369h1v1h-1zM65 370h2v1h-2zM67 371h2v1h-2zM69 372h1v1h-1zM70 373h2v1h-2zM72 374h2v1h-2zM74 375h1v1h-1zM75 376h2v1h-2zM77 377h2v1h-2zM79 378h3v1h-3zM82 377h6v1h-6zM88 376h2v1h-2zM90 377h2v1h-2zM92 378h2v1h-2zM94 379h3v1h-3zM97 380h2v1h-2zM99 381h2v1h-2zM101 382h1v1h-1zM102 383h2v1h-2zM104 384h1v1h-1zM105 385h2v1h-2zM107 386h1v1h-1zM108 387h2v1h-2zM110 388h1v1h-1zM111 389h1v1h-1zM112 390h2v1h-2zM114 391h1v1h-1zM115 392h2v1h-2zM117 393h1v1h-1zM118 394h2v1h-2zM120 395h1v2h-1zM121 397h1v1h-1zM122 398h1v1h-1zM123 399h1v1h-1zM124 400h1v1h-1zM125 401h1v1h-1zM126 402h1v1h-1zM127 403h1v1h-1zM128 404h1v1h-1zM129 405h1v1h-1zM130 406h1v1h-1zM131 407h1v1h-1zM132 408h1v1h-1zM133 409h1v1h-1zM134 410h1v1h-1zM135 411h1v1h-1zM136 412h1v2h-1zM137 414h1v1h-1zM138 415h2v1h-2zM140 416h1v1h-1zM141 417h1v1h-1zM142 418h2v1h-2zM144 419h1v1h-1zM145 420h1v1h-1zM146 421h2v1h-2zM148 422h1v1h-1zM149 423h1v1h-1zM150 424h2v1h-2zM152 425h1v1h-1zM153 426h2v1h-2zM155 427h1v1h-1zM156 428h3v1h-3zM159 429h1v1h-1zM160 430h3v1h-3zM163 431h1v1h-1zM164 432h3v1h-3zM167 433h1v1h-1zM168 434h3v1h-3zM171 435h1v1h-1zM172 436h3v1h-3zM175 437h2v1h-2zM177 438h3v1h-3zM180 439h2v1h-2zM182 440h3v1h-3zM185 441h1v1h-1zM186 440h4v1h-4zM190 439h4v1h-4zM194 438h4v1h-4zM198 437h7v1h-7zM205 436h6v1h-6zM211 435h15v1h-15zM226 434h4v1h-4zM230 433h3v1h-3zM233 432h5v1h-5zM238 431h18v1h-18zM256 430h3v1h-3zM259 429h2v1h-2zM261 428h2v1h-2zM263 427h3v1h-3zM266 426h2v1h-2zM268 425h2v1h-2zM270 424h2v1h-2zM272 423h3v1h-3zM275 422h2v1h-2zM277 421h2v1h-2zM279 420h2v1h-2zM281 419h1v1h-1zM282 418h1v1h-1zM283 417h1v1h-1zM284 416h2v1h-2zM286 415h1v1h-1zM287 414h1v1h-1zM288 413h1v1h-1zM289 412h1v1h-1zM290 411h1v1h-1zM291 409h1v2h-1zM292 408h1v1h-1zM293 406h1v2h-1zM294 405h1v1h-1zM295 404h1v1h-1zM296 402h1v2h-1zM297 401h1v1h-1zM298 399h1v2h-1zM299 398h1v1h-1zM300 396h1v2h-1zM301 395h1v1h-1zM302 394h1v1h-1zM303 392h1v2h-1zM304 391h1v1h-1zM305 389h1v2h-1zM306 388h1v1h-1zM307 387h1v1h-1zM308 385h1v2h-1zM309 384h1v1h-1zM310 382h1v2h-1zM311 381h1v1h-1zM312 379h1v2h-1zM313 378h1v1h-1zM314 377h1v1h-1zM315 375h1v2h-1zM316 374h1v1h-1zM317 373h1v1h-1zM318 372h1v1h-1zM319 370h1v2h-1zM320 369h1v1h-1zM321 368h1v1h-1zM322 366h1v2h-1zM323 365h1v1h-1zM324 364h1v1h-1zM325 363h1v1h-1zM326 362h1v1h-1zM327 361h1v1h-1zM328 360h1v1h-1zM329 359h1v1h-1zM330 358h1v1h-1zM331 357h1v1h-1zM332 356h1v1h-1zM333 355h1v1h-1zM334 354h1v1h-1zM335 353h1v1h-1zM336 352h1v1h-1zM337 351h1v1h-1zM338 350h1v1h-1zM339 349h1v1h-1zM340 348h1v1h-1zM341 347h1v1h-1zM342 346h1v1h-1zM343 345h1v1h-1zM344 344h1v1h-1zM345 343h1v1h-1zM346 342h2v1h-2zM348 341h1v1h-1zM349 340h1v1h-1zM350 339h1v1h-1zM351 338h1v1h-1zM352 337h2v1h-2zM354 336h1v1h-1zM355 335h1v1h-1zM356 334h2v1h-2zM358 333h3v1h-3zM361 332h4v1h-4zM365 331h4v1h-4zM369 330h5v1h-5zM374 329h4v1h-4zM378 328h4v1h-4zM382 327h2v1h-2zM384 326h2v1h-2zM386 325h2v1h-2zM388 324h2v1h-2zM390 323h2v1h-2zM392 322h2v1h-2zM394 321h2v1h-2zM396 320h2v1h-2zM398 319h2v1h-2zM400 318h2v1h-2zM402 317h2v1h-2zM404 316h2v1h-2zM406 315h2v1h-2zM408 314h1v1h-1zM409 313h2v1h-2zM411 312h1v1h-1zM412 311h2v1h-2zM414 310h1v1h-1zM415 309h2v1h-2zM417 308h1v1h-1zM418 307h2v1h-2zM420 306h3v1h-3zM423 305h3v1h-3zM426 304h2v1h-2zM428 303h2v1h-2zM430 302h2v1h-2zM432 301h1v1h-1zM433 300h2v1h-2zM435 299h2v1h-2zM437 298h2v1h-2zM439 297h2v1h-2zM441 296h2v1h-2zM443 295h1v1h-1zM444 294h1v1h-1zM445 293h2v1h-2zM447 292h1v1h-1zM448 291h2v1h-2zM450 290h1v1h-1zM451 289h2v1h-2zM453 288h13v1h-13zM466 289h4v1h-4zM470 290h3v1h-3zM473 291h2v1h-2zM475 292h2v1h-2zM477 293h3v1h-3zM480 294h2v1h-2zM482 295h2v1h-2zM484 296h3v1h-3zM487 297h3v1h-3zM490 298h4v1h-4zM494 299h4v1h-4zM498 300h3v1h-3zM501 301h5v1h-5zM506 302h4v1h-4zM510 303h5v1h-5zM515 304h7v1h-7zM522 305h26v1h-26zM548 304h10v1h-10zM558 305h4v1h-4zM562 306h3v1h-3zM565 307h4v1h-4zM569 308h3v1h-3zM572 309h3v1h-3zM575 310h2v1h-2zM577 311h3v1h-3zM580 312h2v1h-2zM582 313h3v1h-3zM585 314h2v1h-2zM587 315h2v1h-2zM589 316h2v1h-2zM591 317h2v1h-2zM593 318h2v1h-2zM595 319h2v1h-2zM597 320h2v1h-2zM599 321h2v1h-2zM601 322h2v1h-2zM603 323h2v1h-2zM605 324h2v1h-2zM607 325h2v1h-2zM609 326h4v1h-4zM613 327h3v1h-3zM616 328h16v1h-16zM632 327h5v1h-5zM637 326h4v1h-4zM641 325h4v1h-4zM645 324h2v1h-2zM647 323h2v1h-2zM649 322h2v1h-2zM651 321h1v1h-1zM652 320h2v1h-2zM654 319h2v1h-2zM656 318h2v1h-2zM658 317h1v1h-1zM659 316h2v1h-2zM661 315h2v1h-2zM663 314h1v1h-1zM664 313h2v1h-2zM666 312h1v1h-1zM667 311h2v1h-2zM669 310h1v1h-1zM670 309h1v1h-1zM671 308h1v1h-1zM672 307h2v1h-2zM674 306h1v1h-1zM675 305h1v1h-1zM676 304h1v1h-1zM677 303h1v1h-1zM678 302h1v1h-1zM679 301h2v1h-2zM681 300h1v1h-1zM682 299h1v1h-1zM683 298h1v1h-1zM684 297h2v1h-2zM686 296h1v1h-1zM687 295h2v1h-2zM689 294h1v1h-1zM690 293h2v1h-2zM692 292h1v1h-1zM693 291h2v1h-2zM695 290h1v1h-1zM696 289h1v1h-1zM697 288h2v1h-2zM699 287h2v1h-2zM701 286h2v1h-2zM703 285h2v1h-2zM705 284h2v1h-2zM707 283h2v1h-2zM709 282h2v1h-2zM711 281h2v1h-2zM713 280h2v1h-2zM715 279h2v1h-2zM717 278h2v1h-2zM719 277h2v1h-2zM721 276h2v1h-2zM723 275h2v1h-2zM725 274h2v1h-2zM727 273h2v1h-2zM729 272h2v1h-2zM731 271h1v1h-1zM732 270h2v1h-2zM734 269h1v1h-1zM735 268h2v1h-2zM737 267h2v1h-2zM739 266h1v1h-1zM740 265h2v1h-2zM742 264h1v1h-1zM743 263h1v1h-1zM744 262h1v1h-1zM745 261h1v1h-1zM746 260h2v1h-2zM748 259h1v1h-1zM749 258h1v1h-1zM750 257h1v1h-1zM751 256h1v1h-1zM752 255h1v1h-1zM753 254h1v1h-1zM754 253h1v1h-1zM755 252h1v1h-1zM756 251h1v1h-1zM757 250h1v1h-1zM758 249h1v1h-1zM759 248h1v1h-1zM760 247h1v1h-1zM761 246h1v1h-1zM762 245h1v1h-1zM763 244h1v1h-1zM764 243h1v1h-1zM765 242h1v1h-1zM766 241h1v1h-1zM767 240h1v1h-1zM768 239h1v1h-1zM769 238h1v1h-1zM770 237h1v1h-1zM771 236h1v1h-1zM772 235h1v1h-1zM773 234h2v1h-2zM775 233h1v1h-1zM776 232h1v1h-1zM777 231h1v1h-1zM778 230h2v1h-2zM780 229h1v1h-1zM781 228h2v1h-2zM783 227h1v1h-1zM784 226h1v1h-1zM785 225h1v1h-1zM786 224h2v1h-2zM788 223h1v1h-1zM789 222h2v1h-2zM791 221h1v1h-1zM792 220h1v1h-1zM793 219h1v1h-1zM794 218h2v1h-2zM796 217h1v1h-1zM797 216h1v1h-1zM798 215h1v1h-1zM799 214h2v1h-2zM801 213h1v1h-1zM802 212h1v1h-1zM803 211h1v1h-1zM804 210h2v1h-2zM806 209h2v1h-2zM808 208h2v1h-2zM810 207h2v1h-2zM812 206h3v1h-3zM815 205h5v1h-5zM820 204h5v1h-5zM825 203h3v1h-3zM828 202h3v1h-3zM831 201h3v1h-3zM834 200h4v1h-4zM838 199h5v1h-5zM843 198h4v1h-4zM847 197h5v1h-5zM852 196h5v1h-5zM857 195h4v1h-4zM861 194h4v1h-4zM865 193h2v1h-2zM867 192h2v1h-2zM869 191h3v1h-3zM872 190h2v1h-2zM874 189h2v1h-2zM876 188h2v1h-2zM878 187h2v1h-2zM880 186h2v1h-2zM882 185h2v1h-2zM884 184h1v1h-1zM885 183h2v1h-2zM887 182h2v1h-2zM889 181h2v1h-2zM891 180h2v1h-2zM893 179h2v1h-2zM895 178h2v1h-2zM897 177h2v1h-2zM899 176h2v1h-2zM901 175h2v1h-2zM903 174h2v1h-2zM905 173h2v1h-2zM907 172h3v1h-3zM910 171h2v1h-2zM912 170h3v1h-3zM915 169h2v1h-2zM917 168h4v1h-4zM921 167h5v1h-5zM926 166h5v1h-5zM931 165h9v1h-9zM940 164h44v1h-44zM984 163h6v1h-6zM990 162h6v1h-6zM996 161h3v1h-3zM999 160h2v1h-2zM1001 159h3v1h-3zM1004 158h3v1h-3zM1007 157h2v1h-2zM1009 156h2v1h-2zM1011 155h3v1h-3zM1014 154h2v1h-2zM1016 153h3v1h-3zM1019 152h2v1h-2zM1021 151h3v1h-3zM1024 150h3v1h-3zM1027 149h3v1h-3zM1030 148h3v1h-3zM1033 147h6v1h-6zM1039 146h5v1h-5zM1044 145h3v1h-3zM1047 144h4v1h-4zM1051 143h4v1h-4zM1055 142h6v1h-6zM1061 141h6v1h-6zM1067 140h7v1h-7zM1074 139h23v1h-23zM1097 138h7v1h-7zM1104 137h8v1h-8zM1112 136h8v1h-8zM1120 135h20v1h-20zM1140 136h6v1h-6zM1146 137h5v1h-5zM1151 138h5v1h-5zM1156 139h4v1h-4zM1160 140h5v1h-5zM1165 141h3v1h-3zM1168 142h3v1h-3zM1171 143h3v1h-3zM1174 144h3v1h-3zM1177 145h3v1h-3zM1180 146h3v1h-3zM1183 147h3v1h-3zM1186 148h4v1h-4zM1190 149h3v1h-3zM1193 150h4v1h-4zM1197 151h4v1h-4zM1201 152h4v1h-4zM1205 153h4v1h-4zM1209 154h3v1h-3zM1212 155h4v1h-4zM1216 156h3v1h-3zM1219 157h4v1h-4zM1223 158h4v1h-4zM1227 159h4v1h-4zM1231 160h4v1h-4zM1235 161h4v1h-4zM1239 162h7v1h-7zM1246 163h7v1h-7zM1253 164h3v1h-3zM1256 165h3v1h-3zM1259 166h6v1h-6zM1265 167h6v1h-6zM1271 168h23v1h-23zM1294 167h6v1h-6zM1300 166h3v1h-3zM1303 165h3v1h-3zM1306 164h2v1h-2zM1308 163h3v1h-3zM1311 162h3v1h-3zM1314 161h2v1h-2zM1316 160h3v1h-3zM1319 159h2v1h-2zM1321 158h3v1h-3zM1324 157h2v1h-2zM1326 156h3v1h-3zM1329 155h2v1h-2zM1331 154h3v1h-3zM1334 153h2v1h-2zM1336 152h3v1h-3zM1339 151h2v1h-2zM1341 150h3v1h-3zM1344 149h3v1h-3zM1347 148h3v1h-3zM1350 147h3v1h-3zM1353 146h3v1h-3zM1356 145h3v1h-3zM1359 144h3v1h-3zM1362 143h4v1h-4zM1366 142h3v1h-3zM1369 141h4v1h-4zM1373 140h3v1h-3zM1376 139h2v1h-2zM1378 138h3v1h-3zM1381 137h3v1h-3zM1384 136h2v1h-2zM1386 135h3v1h-3zM1389 134h4v1h-4zM1393 133h5v1h-5zM1398 132h4v1h-4zM1402 131h4v1h-4zM1406 130h2v1h-2zM1408 129h3v1h-3zM1411 128h3v1h-3zM1414 127h3v1h-3zM1417 126h3v1h-3zM1420 125h2v1h-2zM1422 124h2v1h-2zM1424 123h2v1h-2zM1426 122h2v1h-2zM1428 121h3v1h-3zM1431 120h2v1h-2zM1433 119h2v1h-2zM1435 118h2v1h-2zM1437 117h2v1h-2zM1439 116h2v1h-2zM1441 115h2v1h-2zM1443 114h2v1h-2zM1445 113h2v1h-2zM1447 112h2v1h-2zM1449 111h2v1h-2zM1451 110h2v1h-2zM1453 109h2v1h-2zM1455 108h2v1h-2zM1457 107h2v1h-2zM1459 106h5v1h-5zM1464 105h2v1h-2zM1466 104h3v1h-3zM1469 103h2v1h-2zM1471 102h3v1h-3zM1474 101h3v1h-3zM1477 100h3v1h-3zM1480 99h4v1h-4zM1484 98h4v1h-4zM1488 97h12v1h-12zM1500 96h18v1h-18zM1518 97h12v1h-12zM1530 98h6v1h-6zM1536 99h5v1h-5zM1541 100h5v1h-5zM1546 101h3v1h-3zM1549 102h3v1h-3zM1552 103h3v1h-3zM1555 104h3v1h-3zM1558 105h3v1h-3zM1561 106h4v1h-4zM1565 107h4v1h-4zM1569 108h4v1h-4zM1573 109h4v1h-4zM1577 110h4v1h-4zM1581 111h4v1h-4zM1585 112h4v1h-4zM1589 113h5v1h-5zM1594 114h5v1h-5zM1599 115h4v1h-4zM1603 116h4v1h-4zM1607 117h4v1h-4zM1611 118h3v1h-3zM1614 119h4v1h-4zM1618 120h3v1h-3zM1621 121h3v1h-3zM1624 122h3v1h-3zM1627 123h3v1h-3zM1630 124h3v1h-3zM1633 125h3v1h-3zM1636 126h6v1h-6zM1642 127h5v1h-5zM1647 128h5v1h-5zM1652 129h6v1h-6zM1658 130h5v1h-5zM1663 131h2v1h-2z" fill="#ffa500"/>
<rect x="8" y="192" width="1675" height="2" fill="#4169e1"/>
<rect x="8" y="250" width="1675" height="2" fill="#4169e1"/>
<rect x="8" y="315" width="1675" height="2" fill="#4169e1"/>
<rect x="8" y="106" width="1675" height="2" fill="#32cd32"/>
<rect x="8" y="33" width="1675" height="2" fill="#ff0000"/>
</g>
<rect x="8" y="589" width="1" height="60" fill="#c0c0c0"/>
<rect x="16" y="589" width="1" height="56" fill="#c0c0c0"/>
<rect x="24" y="589" width="1" height="64" fill="#c0c0c0"/>
<rect x="32" y="589" width="1" height="64" fill="#c0c0c0"/>
<rect x="40" y="589" width="1" height="63" fill="#c0c0c0"/>
<rect x="48" y="589" width="1" height="59" fill="#c0c0c0"/>
<rect x="56" y="589" width="1" height="54" fill="#c0c0c0"/>
<rect x="64" y="589" width="1" height="54" fill="#c0c0c0"/>
<rect x="72" y="589" width="1" height="51" fill="#c0c0c0"/>
<rect x="80" y="589" width="1" height="43" fill="#c0c0c0"/>
<rect x="88" y="589" width="1" height="37" fill="#c0c0c0"/>
<rect x="96" y="589" width="1" height="36" fill="#c0c0c0"/>
<rect x="104" y="589" width="1" height="41" fill="#c0c0c0"/>
<rect x="112" y="589" width="1" height="45" fill="#c0c0c0"/>
<rect x="120" y="589" width="1" height="54" fill="#c0c0c0"/>
<rect x="128" y="589" width="1" height="59" fill="#c0c0c0"/>
<rect x="136" y="589" width="1" height="62" fill="#c0c0c0"/>
<rect x="144" y="589" width="1" height="64" fill="#c0c0c0"/>
<rect x="152" y="589" width="1" height="65" fill="#c0c0c0"/>
<rect x="160" y="589" width="1" height="64" fill="#c0c0c0"/>
<rect x="168" y="589" width="1" height="60" fill="#c0c0c0"/>
<rect x="176" y="589" width="1" height="55" fill="#c0c0c0"/>
<rect x="184" y="589" width="1" height="48" fill="#c0c0c0"/>
<rect x="192" y="589" width="1" height="41" fill="#c0c0c0"/>
<rect x="200" y="589" width="1" height="30" fill="#c0c0c0"/>
<rect x="208" y="589" width="1" height="19" fill="#c0c0c0"/>
<rect x="216" y="589" width="1" height="12" fill="#c0c0c0"/>
<rect x="224" y="589" width="1" height="6" fill="#c0c0c0"/>
<rect x="232" y="587" width="1" height="3" fill="#c0c0c0"/>
<rect x="240" y="584" width="1" height="6" fill="#c0c0c0"/>
<rect x="248" y="579" width="1" height="11" fill="#c0c0c0"/>
<rect x="256" y="575" width="1" height="15" fill="#c0c0c0"/>
<rect x="264" y="571" width="1" height="19" fill="#c0c0c0"/>
<rect x="272" y="570" width="1" height="20" fill="#c0c0c0"/>
<rect x="280" y="571" width="1" height="19" fill="#c0c0c0"/>
<rect x="288" y="572" width="1" height="18" fill="#c0c0c0"/>
<rect x="296" y="563" width="1" height="27" fill="#c0c0c0"/>
<rect x="304" y="554" width="1" height="36" fill="#c0c0c0"/>
<rect x="312" y="546" width="1" height="44" fill="#c0c0c0"/>
<rect x="320" y="544" width="1" height="46" fill="#c0c0c0"/>
<rect x="328" y="543" width="1" height="47" fill="#c0c0c0"/>
<rect x="336" y="545" width="1" height="45" fill="#c0c0c0"/>
<rect x="344" y="548" width="1" height="42" fill="#c0c0c0"/>
<rect x="352" y="550" width="1" height="40" fill="#c0c0c0"/>
<rect x="360" y="553" width="1" height="37" fill="#c0c0c0"/>
<rect x="368" y="558" width="1" height="32" fill="#c0c0c0"/>
<rect x="376" y="561" width="1" height="29" fill="#c0c0c0"/>
<rect x="384" y="564" width="1" height="26" fill="#c0c0c0"/>
<rect x="392" y="565" width="1" height="25" fill="#c0c0c0"/>
<rect x="400" y="562" width="1" height="28" fill="#c0c0c0"/>
<rect x="408" y="558" width="1" height="32" fill="#c0c0c0"/>
<rect x="416" y="556" width="1" height="34" fill="#c0c0c0"/>
<rect x="424" y="554" width="1" height="36" fill="#c0c0c0"/>
<rect x="432" y="553" width="1" height="37" fill="#c0c0c0"/>
<rect x="440" y="553" width="1" height="37" fill="#c0c0c0"/>
<rect x="448" y="553" width="1" height="37" fill="#c0c0c0"/>
<rect x="456" y="556" width="1" height="34" fill="#c0c0c0"/>
<rect x="464" y="562" width="1" height="28" fill="#c0c0c0"/>
<rect x="472" y="567" width="1" height="23" fill="#c0c0c0"/>
<rect x="480" y="574" width="1" height="16" fill="#c0c0c0"/>
<rect x="488" y="580" width="1" height="10" fill="#c0c0c0"/>
<rect x="496" y="585" width="1" height="5" fill="#c0c0c0"/>
<rect x="504" y="589" width="1" height="1" fill="#c0c0c0"/>
<rect x="512" y="589" width="1" height="5" fill="#c0c0c0"/>
<rect x="520" y="589" width="1" height="6" fill="#c0c0c0"/>
<rect x="528" y="589" width="1" height="7" fill="#c0c0c0"/>
<rect x="536" y="589" width="1" height="8" fill="#c0c0c0"/>
<rect x="544" y="589" width="1" height="7" fill="#c0c0c0"/>
<rect x="552" y="589" width="1" height="6" fill="#c0c0c0"/>
<rect x="560" y="589" width="1" height="6" fill="#c0c0c0"/>
<rect x="568" y="589" width="1" height="6" fill="#c0c0c0"/>
<rect x="576" y="589" width="1" height="7" fill="#c0c0c0"/>
<rect x="584" y="589" width="1" height="5" fill="#c0c0c0"/>
<rect x="592" y="589" width="1" height="7" fill="#c0c0c0"/>
<rect x="600" y="589" width="1" height="8" fill="#c0c0c0"/>
<rect x="608" y="589" width="1" height="8" fill="#c0c0c0"/>
<rect x="616" y="589" width="1" height="6" fill="#c0c0c0"/>
<rect x="624" y="589" width="1" height="1" fill="#c0c0c0"/>
<rect x="632" y="586" width="1" height="4" fill="#c0c0c0"/>
<rect x="640" y="582" width="1" height="8" fill="#c0c0c0"/>
<rect x="648" y="578" width="1" height="12" fill="#c0c0c0"/>
<rect x="656" y="572" width="1" height="18" fill="#c0c0c0"/>
<rect x="664" y="566" width="1" height="24" fill="#c0c0c0"/>
<rect x="672" y="564" width="1" height="26" fill="#c0c0c0"/>
<rect x="680" y="558" width="1" height="32" fill="#c0c0c0"/>
<rect x="688" y="553" width="1" height="37" fill="#c0c0c0"/>
<rect x="696" y="549" width="1" height="41" fill="#c0c0c0"/>
<rect x="704" y="552" width="1" height="38" fill="#c0c0c0"/>
<rect x="712" y="553" width="1" height="37" fill="#c0c0c0"/>
<rect x="720" y="556" width="1" height="34" fill="#c0c0c0"/>
<rect x="728" y="556" width="1" height="34" fill="#c0c0c0"/>
<rect x="736" y="558" width="1" height="32" fill="#c0c0c0"/>
<rect x="744" y="556" width="1" height="34" fill="#c0c0c0"/>
<rect x="752" y="552" width="1" height="38" fill="#c0c0c0"/>
<rect x="760" y="551" width="1" height="39" fill="#c0c0c0"/>
<rect x="768" y="550" width="1" height="40" fill="#c0c0c0"/>
<rect x="776" y="548" width="1" height="42" fill="#c0c0c0"/>
<rect x="784" y="550" width="1" height="40" fill="#c0c0c0"/>
<rect x="792" y="547" width="1" height="43" fill="#c0c0c0"/>
<rect x="800" y="546" width="1" height="44" fill="#c0c0c0"/>
<rect x="808" y="546" width="1" height="44" fill="#c0c0c0"/>
<rect x="816" y="548" width="1" height="42" fill="#c0c0c0"/>
<rect x="824" y="551" width="1" height="39" fill="#c0c0c0"/>
<rect x="832" y="554" width="1" height="36" fill="#c0c0c0"/>
<rect x="840" y="555" width="1" height="35" fill="#c0c0c0"/>
<rect x="848" y="558" width="1" height="32" fill="#c0c0c0"/>
<rect x="856" y="560" width="1" height="30" fill="#c0c0c0"/>
<rect x="864" y="560" width="1" height="30" fill="#c0c0c0"/>
<rect x="872" y="559" width="1" height="31" fill="#c0c0c0"/>
<rect x="880" y="558" width="1" height="32" fill="#c0c0c0"/>
<rect x="888" y="559" width="1" height="31" fill="#c0c0c0"/>
<rect x="896" y="558" width="1" height="32" fill="#c0c0c0"/>
<rect x="904" y="557" width="1" height="33" fill="#c0c0c0"/>
<rect x="912" y="556" width="1" height="34" fill="#c0c0c0"/>
<rect x="920" y="557" width="1" height="33" fill="#c0c0c0"/>
<rect x="928" y="558" width="1" height="32" fill="#c0c0c0"/>
<rect x="936" y="561" width="1" height="29" fill="#c0c0c0"/>
<rect x="944" y="565" width="1" height="25" fill="#c0c0c0"/>
<rect x="952" y="568" width="1" height="22" fill="#c0c0c0"/>
<rect x="960" y="572" width="1" height="18" fill="#c0c0c0"/>
<rect x="968" y="575" width="1" height="15" fill="#c0c0c0"/>
<rect x="976" y="575" width="1" height="15" fill="#c0c0c0"/>
<rect x="984" y="576" width="1" height="14" fill="#c0c0c0"/>
<rect x="992" y="576" width="1" height="14" fill="#c0c0c0"/>
<rect x="1000" y="577" width="1" height="13" fill="#c0c0c0"/>
<rect x="1008" y="572" width="1" height="18" fill="#c0c0c0"/>
<rect x="1016" y="568" width="1" height="22" fill="#c0c0c0"/>
<rect x="1024" y="567" width="1" height="23" fill="#c0c0c0"/>
<rect x="1032" y="565" width="1" height="25" fill="#c0c0c0"/>
<rect x="1040" y="567" width="1" height="23" fill="#c0c0c0"/>
<rect x="1048" y="566" width="1" height="24" fill="#c0c0c0"/>
<rect x="1056" y="565" width="1" height="25" fill="#c0c0c0"/>
<rect x="1064" y="566" width="1" height="24" fill="#c0c0c0"/>
<rect x="1072" y="566" width="1" height="24" fill="#c0c0c0"/>
<rect x="1080" y="567" width="1" height="23" fill="#c0c0c0"/>
<rect x="1088" y="571" width="1" height="19" fill="#c0c0c0"/>
<rect x="1096" y="571" width="1" height="19" fill="#c0c0c0"/>
<rect x="1104" y="575" width="1" height="15" fill="#c0c0c0"/>
<rect x="1112" y="577" width="1" height="13" fill="#c0c0c0"/>
<rect x="1120" y="581" width="1" height="9" fill="#c0c0c0"/>
<rect x="1128" y="585" width="1" height="5" fill="#c0c0c0"/>
<rect x="1136" y="589" width="1" height="1" fill="#c0c0c0"/>
<rect x="1144" y="589" width="1" height="4" fill="#c0c0c0"/>
<rect x="1152" y="589" width="1" height="10" fill="#c0c0c0"/>
<rect x="1160" y="589" width="1" height="12" fill="#c0c0c0"/>
<rect x="1168" y="589" width="1" height="13" fill="#c0c0c0"/>
<rect x="1176" y="589" width="1" height="14" fill="#c0c0c0"/>
<rect x="1184" y="589" width="1" height="13" fill="#c0c0c0"/>
<rect x="1192" y="589" width="1" height="12" fill="#c0c0c0"/>
<rect x="1200" y="589" width="1" height="10" fill="#c0c0c0"/>
<rect x="1208" y="589" width="1" height="9" fill="#c0c0c0"/>
<rect x="1216" y="589" width="1" height="8" fill="#c0c0c0"/>
<rect x="1224" y="589" width="1" height="8" fill="#c0c0c0"/>
<rect x="1232" y="589" width="1" height="6" fill="#c0c0c0"/>
<rect x="1240" y="589" width="1" height="2" fill="#c0c0c0"/>
<rect x="1248" y="589" width="1" height="2" fill="#c0c0c0"/>
<rect x="1256" y="589" width="1" height="3" fill="#c0c0c0"/>
<rect x="1264" y="589" width="1" height="4" fill="#c0c0c0"/>
<rect x="1272" y="589" width="1" height="4" fill="#c0c0c0"/>
<rect x="1280" y="589" width="1" height="2" fill="#c0c0c0"/>
<rect x="1288" y="589" width="1" height="1" fill="#c0c0c0"/>
<rect x="1296" y="588" width="1" height="2" fill="#c0c0c0"/>
<rect x="1304" y="586" width="1" height="4" fill="#c0c0c0"/>
<rect x="1312" y="585" width="1" height="5" fill="#c0c0c0"/>
<rect x="1320" y="583" width="1" height="7" fill="#c0c0c0"/>
<rect x="1328" y="580" width="1" height="10" fill="#c0c0c0"/>
<rect x="1336" y="578" width="1" height="12" fill="#c0c0c0"/>
<rect x="1344" y="576" width="1" height="14" fill="#c0c0c0"/>
<rect x="1352" y="574" width="1" height="16" fill="#c0c0c0"/>
<rect x="1360" y="573" width="1" height="17" fill="#c0c0c0"/>
<rect x="1368" y="573" width="1" height="17" fill="#c0c0c0"/>
<rect x="1376" y="572" width="1" height="18" fill="#c0c0c0"/>
<rect x="1384" y="570" width="1" height="20" fill="#c0c0c0"/>
<rect x="1392" y="571" width="1" height="19" fill="#c0c0c0"/>
<rect x="1400" y="572" width="1" height="18" fill="#c0c0c0"/>
<rect x="1408" y="572" width="1" height="18" fill="#c0c0c0"/>
<rect x="1416" y="571" width="1" height="19" fill="#c0c0c0"/>
<rect x="1424" y="571" width="1" height="19" fill="#c0c0c0"/>
<rect x="1432" y="571" width="1" height="19" fill="#c0c0c0"/>
<rect x="1440" y="569" width="1" height="21" fill="#c0c0c0"/>
<rect x="1448" y="568" width="1" height="22" fill="#c0c0c0"/>
<rect x="1456" y="565" width="1" height="25" fill="#c0c0c0"/>
<rect x="1464" y="563" width="1" height="27" fill="#c0c0c0"/>
<rect x="1472" y="563" width="1" height="27" fill="#c0c0c0"/>
<rect x="1480" y="564" width="1" height="26" fill="#c0c0c0"/>
<rect x="1488" y="567" width="1" height="23" fill="#c0c0c0"/>
<rect x="1496" y="570" width="1" height="20" fill="#c0c0c0"/>
<rect x="1504" y="574" width="1" height="16" fill="#c0c0c0"/>
<rect x="1512" y="578" width="1" height="12" fill="#c0c0c0"/>
<rect x="1520" y="582" width="1" height="8" fill="#c0c0c0"/>
<rect x="1528" y="586" width="1" height="4" fill="#c0c0c0"/>
<rect x="1536" y="589" width="1" height="1" fill="#c0c0c0"/>
<rect x="1544" y="589" width="1" height="4" fill="#c0c0c0"/>
<rect x="1552" y="589" width="1" height="7" fill="#c0c0c0"/>
<rect x="1560" y="589" width="1" height="12" fill="#c0c0c0"/>
<rect x="1568" y="589" width="1" height="14" fill="#c0c0c0"/>
<rect x="1576" y="589" width="1" height="15" fill="#c0c0c0"/>
<rect x="1584" y="589" width="1" height="16" fill="#c0c0c0"/>
<rect x="1592" y="589" width="1" height="16" fill="#c0c0c0"/>
<rect x="1600" y="589" width="1" height="14" fill="#c0c0c0"/>
<rect x="1608" y="589" width="1" height="13" fill="#c0c0c0"/>
<rect x="1616" y="589" width="1" height="12" fill="#c0c0c0"/>
<rect x="1624" y="589" width="1" height="9" fill="#c0c0c0"/>
<rect x="1632" y="589" width="1" height="7" fill="#c0c0c0"/>
<rect x="1640" y="589" width="1" height="2" fill="#c0c0c0"/>
<rect x="1648" y="589" width="1" height="2" fill="#c0c0c0"/>
<rect x="1656" y="589" width="1" height="1" fill="#c0c0c0"/>
<rect x="1664" y="588" width="1" height="2" fill="#c0c0c0"/>
<path d="M8 648h3v1h-3zM13 648h3v1h-3zM18 648h3v1h-3zM23 648h3v1h-3zM28 648h3v1h-3zM33 649h3v1h-3zM38 649h3v1h-3zM43 649h3v1h-3zM48 649h3v1h-3zM53 648h3v1h-3zM58 648h3v1h-3zM63 648h1v1h-1zM64 647h2v1h-2zM68 647h2v1h-2zM70 646h1v1h-1zM73 646h3v1h-3zM78 645h3v1h-3zM83 643h3v1h-3zM88 641h3v1h-3zM93 640h1v1h-1zM94 639h2v1h-2zM98 638h3v1h-3zM103 637h3v1h-3zM108 636h3v1h-3zM113 635h1v1h-1zM114 634h2v1h-2zM118 634h3v1h-3zM123 634h3v1h-3zM128 635h3v1h-3zM133 635h2v1h-2zM135 636h1v1h-1zM138 636h3v1h-3zM143 637h3v1h-3zM148 638h3v1h-3zM153 639h1v1h-1zM154 640h2v1h-2zM158 641h2v1h-2zM160 642h1v1h-1zM163 643h2v1h-2zM165 644h1v1h-1zM168 645h2v1h-2zM170 646h1v1h-1zM173 646h3v1h-3zM178 647h3v1h-3zM183 646h3v1h-3zM188 646h2v1h-2zM190 645h1v1h-1zM193 645h1v1h-1zM194 644h2v1h-2zM198 642h2v1h-2zM200 641h1v1h-1zM203 640h2v1h-2zM205 639h1v1h-1zM208 637h1v1h-1zM209 636h2v1h-2zM213 634h1v1h-1zM214 633h1v1h-1zM215 632h1v1h-1zM218 629h1v1h-1zM219 628h1v1h-1zM220 627h1v1h-1zM223 624h1v1h-1zM224 623h1v1h-1zM225 622h1v1h-1zM228 620h1v1h-1zM229 619h1v1h-1zM230 618h1v1h-1zM233 616h1v1h-1zM234 615h1v1h-1zM235 614h1v1h-1zM238 612h1v1h-1zM239 611h1v1h-1zM240 610h1v1h-1zM243 607h1v1h-1zM244 606h2v1h-2zM248 603h1v1h-1zM249 602h1v1h-1zM250 601h1v1h-1zM253 599h1v1h-1zM254 598h1v1h-1zM255 597h1v1h-1zM258 595h1v1h-1zM259 594h1v1h-1zM260 593h1v1h-1zM263 591h1v1h-1zM264 590h1v1h-1zM265 589h1v1h-1zM268 587h1v1h-1zM269 586h2v1h-2zM273 584h2v1h-2zM275 583h1v1h-1zM278 582h2v1h-2zM280 581h1v1h-1zM283 580h2v1h-2zM285 579h1v1h-1zM288 578h1v1h-1zM289 577h1v1h-1zM290 576h1v1h-1zM293 575h1v1h-1zM294 574h2v1h-2zM298 572h3v1h-3zM303 570h2v1h-2zM305 569h1v1h-1zM308 568h1v1h-1zM309 567h1v1h-1zM310 566h1v1h-1zM313 565h1v1h-1zM314 564h2v1h-2zM318 562h3v1h-3zM323 560h2v1h-2zM325 559h1v1h-1zM328 558h2v1h-2zM330 557h1v1h-1zM333 557h1v1h-1zM334 556h2v1h-2zM338 555h3v1h-3zM343 554h1v1h-1zM344 553h2v1h-2zM348 552h2v1h-2zM350 551h1v1h-1zM353 550h3v1h-3zM358 549h3v1h-3zM363 548h3v1h-3zM368 548h3v1h-3zM373 548h1v1h-1zM374 549h2v1h-2zM378 549h2v1h-2zM380 550h1v1h-1zM383 550h2v1h-2zM385 551h1v1h-1zM388 552h3v1h-3zM393 553h1v1h-1zM394 554h2v1h-2zM398 555h3v1h-3zM403 556h3v1h-3zM408 557h3v1h-3zM413 557h3v1h-3zM418 558h3v1h-3zM423 558h3v1h-3zM428 558h3v1h-3zM433 558h1v1h-1zM434 557h2v1h-2zM438 557h3v1h-3zM443 557h3v1h-3zM448 557h2v1h-2zM450 556h1v1h-1zM453 556h3v1h-3zM458 556h1v1h-1zM459 555h2v1h-2zM463 554h2v1h-2zM465 555h1v1h-1zM468 555h2v1h-2zM470 556h1v1h-1zM473 556h3v1h-3zM478 557h3v1h-3zM483 558h2v1h-2zM485 559h1v1h-1zM488 560h3v1h-3zM493 562h3v1h-3zM498 564h2v1h-2zM500 565h1v1h-1zM503 566h1v1h-1zM504 567h1v1h-1zM505 568h1v1h-1zM508 569h1v1h-1zM509 570h2v1h-2zM513 572h1v1h-1zM514 573h2v1h-2zM518 575h1v1h-1zM519 576h2v1h-2zM523 578h2v1h-2zM525 579h1v1h-1zM528 580h1v1h-1zM529 581h2v1h-2zM533 583h2v1h-2zM535 584h1v1h-1zM538 585h1v1h-1zM539 586h2v1h-2zM543 588h2v1h-2zM545 589h1v1h-1zM548 589h1v1h-1zM549 590h2v1h-2zM553 591h2v1h-2zM555 592h1v1h-1zM558 592h3v1h-3zM563 593h3v1h-3zM568 594h3v1h-3zM573 594h3v1h-3zM578 595h3v1h-3zM583 595h3v1h-3zM588 595h3v1h-3zM593 595h3v1h-3zM598 595h3v1h-3zM603 595h3v1h-3zM608 595h3v1h-3zM613 595h3v1h-3zM618 594h3v1h-3zM623 594h3v1h-3zM628 593h3v1h-3zM633 592h3v1h-3zM638 592h3v1h-3zM643 592h1v1h-1zM644 591h2v1h-2zM648 590h1v1h-1zM649 589h2v1h-2zM653 588h2v1h-2zM655 587h1v1h-1zM658 586h1v1h-1zM659 585h2v1h-2zM663 583h2v1h-2zM665 582h1v1h-1zM668 581h1v1h-1zM669 580h2v1h-2zM673 578h2v1h-2zM675 577h1v1h-1zM678 576h1v1h-1zM679 575h2v1h-2zM683 573h2v1h-2zM685 572h1v1h-1zM688 570h2v1h-2zM690 569h1v1h-1zM693 568h1v1h-1zM694 567h2v1h-2zM698 566h1v1h-1zM699 565h2v1h-2zM703 563h2v1h-2zM705 562h1v1h-1zM708 561h2v1h-2zM710 560h1v1h-1zM713 559h2v1h-2zM715 558h1v1h-1zM718 558h2v1h-2zM720 557h1v1h-1zM723 557h2v1h-2zM725 556h1v1h-1zM728 556h3v1h-3zM733 555h3v1h-3zM738 554h3v1h-3zM743 554h3v1h-3zM748 554h1v1h-1zM749 553h2v1h-2zM753 553h3v1h-3zM758 553h3v1h-3zM763 553h3v1h-3zM768 553h3v1h-3zM773 553h3v1h-3zM778 552h3v1h-3zM783 552h1v1h-1zM784 551h2v1h-2zM788 551h3v1h-3zM793 550h3v1h-3zM798 550h2v1h-2zM800 549h1v1h-1zM803 549h3v1h-3zM808 549h1v1h-1zM809 548h2v1h-2zM813 548h3v1h-3zM818 548h3v1h-3zM823 548h3v1h-3zM828 548h3v1h-3zM833 548h3v1h-3zM838 548h2v1h-2zM840 549h1v1h-1zM843 549h3v1h-3zM848 550h3v1h-3zM853 550h2v1h-2zM855 551h1v1h-1zM858 551h3v1h-3zM863 552h3v1h-3zM868 553h3v1h-3zM873 554h3v1h-3zM878 555h3v1h-3zM883 555h3v1h-3zM888 556h3v1h-3zM893 556h3v1h-3zM898 557h3v1h-3zM903 557h3v1h-3zM908 557h3v1h-3zM913 557h3v1h-3zM918 557h3v1h-3zM923 557h3v1h-3zM928 557h3v1h-3zM933 557h3v1h-3zM938 557h3v1h-3zM943 557h2v1h-2zM945 558h1v1h-1zM948 558h3v1h-3zM953 558h1v1h-1zM954 559h2v1h-2zM958 559h3v1h-3zM963 560h2v1h-2zM965 561h1v1h-1zM968 561h1v1h-1zM969 562h2v1h-2zM973 562h1v1h-1zM974 563h2v1h-2zM978 564h3v1h-3zM983 565h2v1h-2zM985 566h1v1h-1zM988 566h1v1h-1zM989 567h2v1h-2zM993 568h2v1h-2zM995 569h1v1h-1zM998 570h3v1h-3zM1003 571h3v1h-3zM1008 572h3v1h-3zM1013 572h3v1h-3zM1018 572h3v1h-3zM1023 572h3v1h-3zM1028 571h3v1h-3zM1033 571h2v1h-2zM1035 570h1v1h-1zM1038 570h3v1h-3zM1043 569h3v1h-3zM1048 569h3v1h-3zM1053 568h3v1h-3zM1058 567h3v1h-3zM1063 567h3v1h-3zM1068 566h3v1h-3zM1073 566h3v1h-3zM1078 565h3v1h-3zM1083 565h3v1h-3zM1088 565h3v1h-3zM1093 566h3v1h-3zM1098 566h3v1h-3zM1103 566h2v1h-2zM1105 567h1v1h-1zM1108 567h3v1h-3zM1113 568h3v1h-3zM1118 569h3v1h-3zM1123 570h2v1h-2zM1125 571h1v1h-1zM1128 572h3v1h-3zM1133 573h2v1h-2zM1135 574h1v1h-1zM1138 575h1v1h-1zM1139 576h2v1h-2zM1143 578h3v1h-3zM1148 579h1v1h-1zM1149 580h2v1h-2zM1153 581h2v1h-2zM1155 582h1v1h-1zM1158 583h1v1h-1zM1159 584h2v1h-2zM1163 585h1v1h-1zM1164 586h2v1h-2zM1168 588h3v1h-3zM1173 590h2v1h-2zM1175 591h1v1h-1zM1178 592h1v1h-1zM1179 593h2v1h-2zM1183 594h3v1h-3zM1188 595h1v1h-1zM1189 596h2v1h-2zM1193 597h3v1h-3zM1198 598h3v1h-3zM1203 599h3v1h-3zM1208 599h3v1h-3zM1213 600h3v1h-3zM1218 600h3v1h-3zM1223 600h3v1h-3zM1228 600h1v1h-1zM1229 599h2v1h-2zM1233 599h3v1h-3zM1238 598h3v1h-3zM1243 597h3v1h-3zM1248 596h3v1h-3zM1253 595h3v1h-3zM1258 594h3v1h-3zM1263 594h3v1h-3zM1268 594h3v1h-3zM1273 594h2v1h-2zM1275 593h1v1h-1zM1278 593h3v1h-3zM1283 593h3v1h-3zM1288 592h3v1h-3zM1293 592h3v1h-3zM1298 592h1v1h-1zM1299 591h2v1h-2zM1303 591h1v1h-1zM1304 590h2v1h-2zM1308 590h1v1h-1zM1309 589h2v1h-2zM1313 589h3v1h-3zM1318 588h3v1h-3zM1323 588h1v1h-1zM1324 587h2v1h-2zM1328 587h3v1h-3zM1333 586h3v1h-3zM1338 585h3v1h-3zM1343 584h2v1h-2zM1345 583h1v1h-1zM1348 582h3v1h-3zM1353 581h2v1h-2zM1355 580h1v1h-1zM1358 580h1v1h-1zM1359 579h2v1h-2zM1363 578h3v1h-3zM1368 577h3v1h-3zM1373 576h2v1h-2zM1375 575h1v1h-1zM1378 575h1v1h-1zM1379 574h2v1h-2zM1383 574h3v1h-3zM1388 573h3v1h-3zM1393 573h3v1h-3zM1398 572h3v1h-3zM1403 572h3v1h-3zM1408 572h1v1h-1zM1409 571h2v1h-2zM1413 571h3v1h-3zM1418 571h3v1h-3zM1423 571h3v1h-3zM1428 571h3v1h-3zM1433 571h3v1h-3zM1438 571h2v1h-2zM1440 570h1v1h-1zM1443 570h3v1h-3zM1448 570h3v1h-3zM1453 569h3v1h-3zM1458 569h1v1h-1zM1459 568h2v1h-2zM1463 568h3v1h-3zM1468 567h3v1h-3zM1473 566h3v1h-3zM1478 566h3v1h-3zM1483 566h3v1h-3zM1488 566h3v1h-3zM1493 566h3v1h-3zM1498 566h3v1h-3zM1503 566h3v1h-3zM1508 566h2v1h-2zM1510 567h1v1h-1zM1513 567h3v1h-3zM1518 568h3v1h-3zM1523 569h2v1h-2zM1525 570h1v1h-1zM1528 571h3v1h-3zM1533 572h1v1h-1zM1534 573h2v1h-2zM1538 574h2v1h-2zM1540 575h1v1h-1zM1543 576h2v1h-2zM1545 577h1v1h-1zM1548 578h2v1h-2zM1550 579h1v1h-1zM1553 580h1v1h-1zM1554 581h2v1h-2zM1558 583h3v1h-3zM1563 585h2v1h-2zM1565 586h1v1h-1zM1568 587h2v1h-2zM1570 588h1v1h-1zM1573 589h1v1h-1zM1574 590h2v1h-2zM1578 592h3v1h-3zM1583 594h2v1h-2zM1585 595h1v1h-1zM1588 595h1v1h-1zM1589 596h2v1h-2zM1593 597h3v1h-3zM1598 598h3v1h-3zM1603 599h2v1h-2zM1605 600h1v1h-1zM1608 600h3v1h-3zM1613 601h3v1h-3zM1618 601h3v1h-3zM1623 601h3v1h-3zM1628 601h3v1h-3zM1633 601h2v1h-2zM1635 600h1v1h-1zM1638 600h1v1h-1zM1639 599h2v1h-2zM1643 598h3v1h-3zM1648 597h3v1h-3zM1653 597h1v1h-1zM1654 596h2v1h-2zM1658 596h2v1h-2zM1660 595h1v1h-1z" fill="#ff0000"/>
<line x1="8" y1="693.5" x2="1683" y2="693.5" stroke="#c0c0c0" stroke-width="1" stroke-dasharray="3 3"/>
<line x1="8" y1="735.5" x2="1683" y2="735.5" stroke="#c0c0c0" stroke-width="1" stroke-dasharray="3 3"/>
<path d="M8 724h2v1h-2zM10 723h1v1h-1zM11 722h2v1h-2zM13 721h2v1h-2zM15 720h2v1h-2zM17 721h1v1h-1zM18 722h1v2h-1zM19 724h1v1h-1zM20 725h1v1h-1zM21 726h1v2h-1zM22 728h1v1h-1zM23 729h2v1h-2zM25 728h1v1h-1zM26 727h1v1h-1zM27 726h1v1h-1zM28 725h2v1h-2zM30 724h1v1h-1zM31 723h4v1h-4zM35 724h4v1h-4zM39 725h1v1h-1zM40 724h2v1h-2zM42 723h1v1h-1zM43 722h1v1h-1zM44 721h1v1h-1zM45 720h2v1h-2zM47 719h11v1h-11zM58 720h3v1h-3zM61 721h2v1h-2zM63 722h4v1h-4zM67 721h5v1h-5zM72 720h1v1h-1zM73 719h1v1h-1zM74 718h1v1h-1zM75 717h1v1h-1zM76 716h2v1h-2zM78 715h1v1h-1zM79 714h6v1h-6zM85 715h5v1h-5zM90 716h2v1h-2zM92 717h2v1h-2zM94 718h2v1h-2zM96 719h2v1h-2zM98 720h1v1h-1zM99 721h1v1h-1zM100 722h2v1h-2zM102 723h1v1h-1zM103 724h2v1h-2zM105 725h8v1h-8zM113 726h2v1h-2zM115 727h1v1h-1zM116 728h2v1h-2zM118 729h2v1h-2zM120 730h11v1h-11zM131 729h6v1h-6zM137 728h12v1h-12zM149 729h4v1h-4zM153 728h3v1h-3zM156 727h3v1h-3zM159 726h3v1h-3zM162 725h2v1h-2zM164 724h2v1h-2zM166 723h2v1h-2zM168 722h3v1h-3zM171 721h2v1h-2zM173 720h3v1h-3zM176 719h2v1h-2zM178 718h2v1h-2zM180 717h2v1h-2zM182 716h3v1h-3zM185 715h6v1h-6zM191 714h2v1h-2zM193 713h1v1h-1zM194 712h1v1h-1zM195 711h1v1h-1zM196 710h1v1h-1zM197 709h2v1h-2zM199 708h1v1h-1zM200 707h3v1h-3zM203 706h3v1h-3zM206 705h5v1h-5zM211 706h6v1h-6zM217 707h6v1h-6zM223 708h1v1h-1zM224 707h2v1h-2zM226 706h2v1h-2zM228 705h1v1h-1zM229 704h2v1h-2zM231 703h2v1h-2zM233 704h1v1h-1zM234 705h1v1h-1zM235 706h2v1h-2zM237 707h1v1h-1zM238 708h1v1h-1zM239 709h3v1h-3zM242 708h2v1h-2zM244 707h2v1h-2zM246 706h4v1h-4zM250 705h17v1h-17zM267 706h6v1h-6zM273 707h1v1h-1zM274 708h2v1h-2zM276 709h2v1h-2zM278 710h2v1h-2zM280 711h8v1h-8zM288 709h1v2h-1zM289 707h1v2h-1zM290 706h1v1h-1zM291 704h1v2h-1zM292 702h1v2h-1zM293 700h1v2h-1zM294 699h1v1h-1zM295 697h1v2h-1zM296 697h1v1h-1zM297 696h5v1h-5zM302 695h4v1h-4zM306 694h4v1h-4zM310 693h3v1h-3zM313 694h1v1h-1zM314 695h1v1h-1zM315 696h1v1h-1zM316 697h1v1h-1zM317 698h1v1h-1zM318 699h1v1h-1zM319 700h1v1h-1zM320 701h4v1h-4zM324 702h5v1h-5zM329 703h1v1h-1zM330 704h3v1h-3zM333 705h1v1h-1zM334 706h3v1h-3zM337 707h6v1h-6zM343 708h2v1h-2zM345 707h6v1h-6zM351 706h2v1h-2zM353 707h4v1h-4zM357 708h4v1h-4zM361 709h2v1h-2zM363 710h2v1h-2zM365 711h1v1h-1zM366 712h5v1h-5zM371 711h3v1h-3zM374 710h5v1h-5zM379 711h3v1h-3zM382 712h2v1h-2zM384 711h2v1h-2zM386 710h2v1h-2zM388 709h2v1h-2zM390 708h2v1h-2zM392 707h1v1h-1zM393 706h1v1h-1zM394 705h2v1h-2zM396 704h1v1h-1zM397 703h1v1h-1zM398 702h2v1h-2zM400 701h3v1h-3zM403 700h21v1h-21zM424 699h10v1h-10zM434 700h2v1h-2zM436 701h2v1h-2zM438 702h6v1h-6zM444 701h5v1h-5zM449 702h1v1h-1zM450 703h1v1h-1zM451 704h1v1h-1zM452 705h1v1h-1zM453 706h1v1h-1zM454 707h1v1h-1zM455 708h1v1h-1zM456 709h1v1h-1zM457 710h2v1h-2zM459 711h2v1h-2zM461 712h2v1h-2zM463 713h2v1h-2zM465 714h5v1h-5zM470 715h3v1h-3zM473 716h2v1h-2zM475 717h2v1h-2zM477 718h2v1h-2zM479 719h1v1h-1zM480 720h7v1h-7zM487 721h11v1h-11zM498 722h2v1h-2zM500 723h2v1h-2zM502 724h2v1h-2zM504 725h1v1h-1zM505 724h3v1h-3zM508 723h2v1h-2zM510 722h3v1h-3zM513 721h3v1h-3zM516 720h4v1h-4zM520 719h4v1h-4zM524 718h6v1h-6zM530 717h9v1h-9zM539 716h6v1h-6zM545 715h3v1h-3zM548 714h8v1h-8zM556 715h3v1h-3zM559 716h4v1h-4zM563 717h3v1h-3zM566 718h6v1h-6zM572 717h4v1h-4zM576 716h1v1h-1zM577 715h2v1h-2zM579 714h1v1h-1zM580 713h1v1h-1zM581 712h2v1h-2zM583 711h2v1h-2zM585 712h1v1h-1zM586 713h1v1h-1zM587 714h1v1h-1zM588 715h1v2h-1zM589 717h1v1h-1zM590 718h1v1h-1zM591 719h1v1h-1zM592 720h11v1h-11zM603 719h5v1h-5zM608 718h1v1h-1zM609 717h1v1h-1zM610 716h1v1h-1zM611 715h1v1h-1zM612 714h1v1h-1zM613 713h1v1h-1zM614 712h1v1h-1zM615 711h1v1h-1zM616 710h1v1h-1zM617 709h1v1h-1zM618 708h1v1h-1zM619 707h1v1h-1zM620 706h1v1h-1zM621 705h1v1h-1zM622 704h1v1h-1zM623 702h1v2h-1zM624 702h4v1h-4zM628 701h7v1h-7zM635 702h6v1h-6zM641 701h2v1h-2zM643 700h1v1h-1zM644 699h2v1h-2zM646 698h2v1h-2zM648 697h1v1h-1zM649 696h2v1h-2zM651 695h2v1h-2zM653 694h1v1h-1zM654 693h3v1h-3zM657 692h8v1h-8zM665 693h1v1h-1zM666 694h1v1h-1zM667 695h1v1h-1zM668 696h1v1h-1zM669 697h1v1h-1zM670 698h1v1h-1zM671 699h2v1h-2zM673 698h1v1h-1zM674 697h1v1h-1zM675 696h1v1h-1zM676 695h1v1h-1zM677 694h1v1h-1zM678 693h1v1h-1zM679 692h4v1h-4zM683 691h13v1h-13zM696 692h1v1h-1zM697 693h1v2h-1zM698 695h1v2h-1zM699 697h1v1h-1zM700 698h1v2h-1zM701 700h1v2h-1zM702 702h1v1h-1zM703 703h1v2h-1zM704 705h12v1h-12zM716 706h6v1h-6zM722 705h3v1h-3zM725 704h6v1h-6zM731 703h5v1h-5zM736 702h1v1h-1zM737 701h2v1h-2zM739 700h1v1h-1zM740 699h2v1h-2zM742 698h2v1h-2zM744 697h2v1h-2zM746 696h2v1h-2zM748 695h2v1h-2zM750 694h6v1h-6zM756 693h5v1h-5zM761 694h2v1h-2zM763 695h2v1h-2zM765 696h2v1h-2zM767 697h1v1h-1zM768 696h2v1h-2zM770 695h2v1h-2zM772 694h2v1h-2zM774 693h3v1h-3zM777 694h1v2h-1zM778 696h1v1h-1zM779 697h1v1h-1zM780 698h1v2h-1zM781 700h1v1h-1zM782 701h1v1h-1zM783 702h1v2h-1zM784 703h1v1h-1zM785 702h1v1h-1zM786 701h1v1h-1zM787 700h1v1h-1zM788 699h1v1h-1zM789 698h1v1h-1zM790 697h1v1h-1zM791 696h5v1h-5zM796 697h3v1h-3zM799 698h3v1h-3zM802 697h7v1h-7zM809 698h1v1h-1zM810 699h1v1h-1zM811 700h1v1h-1zM812 701h1v1h-1zM813 702h1v1h-1zM814 703h1v1h-1zM815 704h2v1h-2zM817 705h5v1h-5zM822 706h11v1h-11zM833 705h1v1h-1zM834 704h3v1h-3zM837 703h1v1h-1zM838 702h3v1h-3zM841 703h2v1h-2zM843 704h1v1h-1zM844 705h1v1h-1zM845 706h2v1h-2zM847 707h1v1h-1zM848 708h1v1h-1zM849 707h3v1h-3zM852 706h5v1h-5zM857 705h3v1h-3zM860 704h4v1h-4zM864 703h2v1h-2zM866 702h2v1h-2zM868 701h2v1h-2zM870 700h6v1h-6zM876 701h3v1h-3zM879 702h4v1h-4zM883 701h6v1h-6zM889 700h4v1h-4zM893 699h4v1h-4zM897 698h2v1h-2zM899 697h3v1h-3zM902 696h11v1h-11zM913 697h6v1h-6zM919 698h2v1h-2zM921 699h2v1h-2zM923 700h1v1h-1zM924 701h1v1h-1zM925 702h1v1h-1zM926 703h1v1h-1zM927 704h2v1h-2zM929 705h3v1h-3zM932 706h5v1h-5zM937 707h1v1h-1zM938 708h1v1h-1zM939 709h1v1h-1zM940 710h1v1h-1zM941 711h1v1h-1zM942 712h1v1h-1zM943 713h4v1h-4zM947 712h3v1h-3zM950 711h4v1h-4zM954 712h2v1h-2zM956 713h2v1h-2zM958 714h2v1h-2zM960 715h3v1h-3zM963 714h5v1h-5zM968 713h1v1h-1zM969 712h1v1h-1zM970 711h1v1h-1zM971 710h1v1h-1zM972 709h1v1h-1zM973 708h1v1h-1zM974 707h1v1h-1zM975 706h2v1h-2zM977 707h2v1h-2zM979 708h2v1h-2zM981 709h2v1h-2zM983 710h2v1h-2zM985 709h4v1h-4zM989 708h8v1h-8zM997 709h3v1h-3zM1000 708h1v1h-1zM1001 706h1v2h-1zM1002 705h1v1h-1zM1003 703h1v2h-1zM1004 702h1v1h-1zM1005 701h1v1h-1zM1006 699h1v2h-1zM1007 698h2v1h-2zM1009 697h6v1h-6zM1015 696h2v1h-2zM1017 697h1v1h-1zM1018 698h2v1h-2zM1020 699h2v1h-2zM1022 700h7v1h-7zM1029 699h4v1h-4zM1033 700h1v1h-1zM1034 701h1v1h-1zM1035 702h1v1h-1zM1036 703h1v1h-1zM1037 704h1v1h-1zM1038 705h1v1h-1zM1039 706h3v1h-3zM1042 705h2v1h-2zM1044 704h3v1h-3zM1047 703h5v1h-5zM1052 702h6v1h-6zM1058 703h2v1h-2zM1060 704h2v1h-2zM1062 705h5v1h-5zM1067 704h3v1h-3zM1070 703h4v1h-4zM1074 704h2v1h-2zM1076 705h2v1h-2zM1078 706h2v1h-2zM1080 706h1v2h-1zM1081 708h1v1h-1zM1082 709h1v1h-1zM1083 710h1v1h-1zM1084 711h1v1h-1zM1085 712h1v1h-1zM1086 713h1v1h-1zM1087 714h2v1h-2zM1089 713h1v1h-1zM1090 712h2v1h-2zM1092 711h1v1h-1zM1093 710h1v1h-1zM1094 709h1v1h-1zM1095 708h2v1h-2zM1097 709h1v1h-1zM1098 710h1v1h-1zM1099 711h1v1h-1zM1100 712h2v1h-2zM1102 713h1v1h-1zM1103 714h1v1h-1zM1104 715h3v1h-3zM1107 714h7v1h-7zM1114 715h2v1h-2zM1116 716h2v1h-2zM1118 717h2v1h-2zM1120 718h5v1h-5zM1125 719h5v1h-5zM1130 720h2v1h-2zM1132 721h2v1h-2zM1134 722h3v1h-3zM1137 723h2v1h-2zM1139 724h2v1h-2zM1141 725h3v1h-3zM1144 726h5v1h-5zM1149 727h4v1h-4zM1153 726h3v1h-3zM1156 725h3v1h-3zM1159 724h9v1h-9zM1168 723h2v1h-2zM1170 722h2v1h-2zM1172 721h2v1h-2zM1174 720h3v1h-3zM1177 719h4v1h-4zM1181 718h3v1h-3zM1184 717h3v1h-3zM1187 716h3v1h-3zM1190 715h5v1h-5zM1195 714h9v1h-9zM1204 715h3v1h-3zM1207 716h10v1h-10zM1217 715h6v1h-6zM1223 714h5v1h-5zM1228 713h4v1h-4zM1232 712h1v1h-1zM1233 711h1v1h-1zM1234 710h1v1h-1zM1235 709h1v1h-1zM1236 708h2v1h-2zM1238 707h1v1h-1zM1239 706h2v1h-2zM1241 707h1v1h-1zM1242 708h1v1h-1zM1243 709h1v1h-1zM1244 710h2v1h-2zM1246 711h1v1h-1zM1247 712h1v1h-1zM1248 713h1v1h-1zM1249 714h2v1h-2zM1251 715h1v1h-1zM1252 716h2v1h-2zM1254 717h2v1h-2zM1256 718h5v1h-5zM1261 719h4v1h-4zM1265 718h3v1h-3zM1268 717h3v1h-3zM1271 716h2v1h-2zM1273 715h1v1h-1zM1274 714h2v1h-2zM1276 713h2v1h-2zM1278 712h9v1h-9zM1287 713h1v1h-1zM1288 712h1v1h-1zM1289 711h1v1h-1zM1290 710h1v1h-1zM1291 709h1v1h-1zM1292 708h1v1h-1zM1293 707h1v1h-1zM1294 706h1v1h-1zM1295 705h11v1h-11zM1306 706h3v1h-3zM1309 707h4v1h-4zM1313 706h2v1h-2zM1315 705h2v1h-2zM1317 704h1v1h-1zM1318 703h2v1h-2zM1320 702h5v1h-5zM1325 701h11v1h-11zM1336 700h5v1h-5zM1341 699h4v1h-4zM1345 698h14v1h-14zM1359 699h3v1h-3zM1362 700h2v1h-2zM1364 701h2v1h-2zM1366 702h3v1h-3zM1369 701h2v1h-2zM1371 700h2v1h-2zM1373 699h2v1h-2zM1375 698h2v1h-2zM1377 697h1v1h-1zM1378 696h2v1h-2zM1380 695h1v1h-1zM1381 694h1v1h-1zM1382 693h3v1h-3zM1385 694h1v2h-1zM1386 696h1v1h-1zM1387 697h1v2h-1zM1388 699h1v2h-1zM1389 701h1v1h-1zM1390 702h1v2h-1zM1391 704h1v1h-1zM1392 705h1v1h-1zM1393 706h2v1h-2zM1395 707h3v1h-3zM1398 708h5v1h-5zM1403 707h2v1h-2zM1405 706h3v1h-3zM1408 705h1v1h-1zM1409 704h2v1h-2zM1411 703h2v1h-2zM1413 702h1v1h-1zM1414 701h7v1h-7zM1421 702h5v1h-5zM1426 703h2v1h-2zM1428 704h3v1h-3zM1431 705h1v1h-1zM1432 704h1v1h-1zM1433 703h1v1h-1zM1434 702h1v1h-1zM1435 701h1v1h-1zM1436 700h1v1h-1zM1437 699h1v1h-1zM1438 698h1v1h-1zM1439 697h8v1h-8zM1447 696h5v1h-5zM1452 695h3v1h-3zM1455 694h5v1h-5zM1460 693h6v1h-6zM1466 694h2v1h-2zM1468 695h2v1h-2zM1470 696h2v1h-2zM1472 697h1v1h-1zM1473 698h1v1h-1zM1474 699h1v1h-1zM1475 700h2v1h-2zM1477 701h1v1h-1zM1478 702h1v1h-1zM1479 703h1v1h-1zM1480 704h1v1h-1zM1481 705h1v1h-1zM1482 706h2v1h-2zM1484 707h1v1h-1zM1485 708h1v1h-1zM1486 709h1v1h-1zM1487 710h1v1h-1zM1488 711h2v1h-2zM1490 710h7v1h-7zM1497 711h2v1h-2zM1499 712h1v1h-1zM1500 713h1v1h-1zM1501 714h2v1h-2zM1503 715h1v1h-1zM1504 716h2v1h-2zM1506 717h3v1h-3zM1509 718h2v1h-2zM1511 719h3v1h-3zM1514 720h2v1h-2zM1516 721h2v1h-2zM1518 722h7v1h-7zM1525 721h5v1h-5zM1530 722h2v1h-2zM1532 723h2v1h-2zM1534 724h3v1h-3zM1537 725h11v1h-11zM1548 726h5v1h-5zM1553 727h1v1h-1zM1554 728h1v1h-1zM1555 729h1v1h-1zM1556 730h2v1h-2zM1558 731h1v1h-1zM1559 732h2v1h-2zM1561 731h1v1h-1zM1562 730h1v1h-1zM1563 729h1v1h-1zM1564 728h1v1h-1zM1565 727h1v1h-1zM1566 726h1v1h-1zM1567 725h7v1h-7zM1574 726h10v1h-10zM1584 725h3v1h-3zM1587 724h3v1h-3zM1590 723h2v1h-2zM1592 722h1v1h-1zM1593 721h1v1h-1zM1594 720h2v1h-2zM1596 719h1v1h-1zM1597 718h1v1h-1zM1598 717h1v1h-1zM1599 716h4v1h-4zM1603 717h6v1h-6zM1609 716h2v1h-2zM1611 715h3v1h-3zM1614 714h2v1h-2zM1616 713h2v1h-2zM1618 712h2v1h-2zM1620 711h2v1h-2zM1622 710h8v1h-8zM1630 711h2v1h-2zM1632 710h1v1h-1zM1633 709h1v1h-1zM1634 708h1v1h-1zM1635 707h2v1h-2zM1637 706h1v1h-1zM1638 705h1v1h-1zM1639 704h2v1h-2zM1641 705h1v1h-1zM1642 706h1v1h-1zM1643 707h1v1h-1zM1644 708h1v1h-1zM1645 709h1v1h-1zM1646 710h1v1h-1zM1647 711h1v1h-1zM1648 712h2v1h-2zM1650 711h3v1h-3zM1653 710h7v1h-7zM1660 709h5v1h-5z" fill="#1e90ff"/>
<rect x="7" y="30" width="1677" height="1" fill="#000"/>
<rect x="7" y="533" width="1677" height="1" fill="#000"/>
<rect x="7" y="535" width="1677" height="1" fill="#000"/>
<rect x="7" y="659" width="1677" height="1" fill="#000"/>
<rect x="7" y="661" width="1677" height="1" fill="#000"/>
<rect x="7" y="766" width="1677" height="1" fill="#000"/>
<rect x="7" y="30" width="1" height="737" fill="#000"/>
<rect x="1683" y="30" width="1" height="737" fill="#000"/>
<rect x="8" y="767" width="1" height="3" fill="#000"/>
<rect x="72" y="767" width="1" height="3" fill="#000"/>
<rect x="136" y="767" width="1" height="3" fill="#000"/>
<rect x="200" y="767" width="1" height="3" fill="#000"/>
<rect x="264" y="767" width="1" height="3" fill="#000"/>
<rect x="328" y="767" width="1" height="3" fill="#000"/>
<rect x="392" y="767" width="1" height="3" fill="#000"/>
<rect x="456" y="767" width="1" height="3" fill="#000"/>
<rect x="520" y="767" width="1" height="3" fill="#000"/>
<rect x="584" y="767" width="1" height="3" fill="#000"/>
<rect x="648" y="767" width="1" height="3" fill="#000"/>
<rect x="712" y="767" width="1" height="3" fill="#000"/>
<rect x="776" y="767" width="1" height="3" fill="#000"/>
<rect x="840" y="767" width="1" height="3" fill="#000"/>
<rect x="904" y="767" width="1" height="3" fill="#000"/>
<rect x="968" y="767" width="1" height="3" fill="#000"/>
<rect x="1032" y="767" width="1" height="3" fill="#000"/>
<rect x="1096" y="767" width="1" height="3" fill="#000"/>
<rect x="1160" y="767" width="1" height="3" fill="#000"/>
<rect x="1224" y="767" width="1" height="3" fill="#000"/>
<rect x="1288" y="767" width="1" height="3" fill="#000"/>
<rect x="1352" y="767" width="1" height="3" fill="#000"/>
<rect x="1416" y="767" width="1" height="3" fill="#000"/>
<rect x="1480" y="767" width="1" height="3" fill="#000"/>
<rect x="1544" y="767" width="1" height="3" fill="#000"/>
<rect x="1608" y="767" width="1" height="3" fill="#000"/>
<rect x="1684" y="68" width="2" height="1" fill="#000"/>
<rect x="1684" y="101" width="2" height="1" fill="#000"/>
<rect x="1684" y="134" width="2" height="1" fill="#000"/>
<rect x="1684" y="167" width="2" height="1" fill="#000"/>
<rect x="1684" y="200" width="2" height="1" fill="#000"/>
<rect x="1684" y="233" width="2" height="1" fill="#000"/>
<rect x="1684" y="266" width="2" height="1" fill="#000"/>
<rect x="1684" y="299" width="2" height="1" fill="#000"/>
<rect x="1684" y="332" width="2" height="1" fill="#000"/>
<rect x="1684" y="365" width="2" height="1" fill="#000"/>
<rect x="1684" y="398" width="2" height="1" fill="#000"/>
<rect x="1684" y="431" width="2" height="1" fill="#000"/>
<rect x="1684" y="465" width="2" height="1" fill="#000"/>
<rect x="1684" y="498" width="2" height="1" fill="#000"/>
<rect x="1684" y="531" width="2" height="1" fill="#000"/>
<rect x="1684" y="589" width="2" height="1" fill="#000"/>
<rect x="1684" y="693" width="2" height="1" fill="#000"/>
<rect x="1684" y="735" width="2" height="1" fill="#000"/>
<rect x="1684" y="765" width="2" height="1" fill="#000"/>
<rect x="1684" y="662" width="2" height="1" fill="#000"/>
<path d="M11 37 h7 l-3.5 4 z" fill="#000"/>
<g shape-rendering="geometricPrecision" text-rendering="geometricPrecision">
<text x="7.2" y="778.8" fill="#000" stroke="#000" font-size="9.3">18 Mar 2020</text>
<text x="71.2" y="778.8" fill="#000" stroke="#000" font-size="9.3">20 Mar 00:00</text>
<text x="135.2" y="778.8" fill="#000" stroke="#000" font-size="9.3">23 Mar 04:00</text>
<text x="199.2" y="778.8" fill="#000" stroke="#000" font-size="9.3">24 Mar 12:00</text>
<text x="263.2" y="778.8" fill="#000" stroke="#000" font-size="9.3">25 Mar 20:00</text>
<text x="327.2" y="778.8" fill="#000" stroke="#000" font-size="9.3">27 Mar 04:00</text>
<text x="391.2" y="778.8" fill="#000" stroke="#000" font-size="9.3">30 Mar 08:00</text>
<text x="455.2" y="778.8" fill="#000" stroke="#000" font-size="9.3">31 Mar 16:00</text>
<text x="519.2" y="778.8" fill="#000" stroke="#000" font-size="9.3">2 Apr 00:00</text>
<text x="583.2" y="778.8" fill="#000" stroke="#000" font-size="9.3">3 Apr 08:00</text>
<text x="647.2" y="778.8" fill="#000" stroke="#000" font-size="9.3">6 Apr 12:00</text>
<text x="711.2" y="778.8" fill="#000" stroke="#000" font-size="9.3">7 Apr 20:00</text>
<text x="775.2" y="778.8" fill="#000" stroke="#000" font-size="9.3">9 Apr 04:00</text>
<text x="839.2" y="778.8" fill="#000" stroke="#000" font-size="9.3">13 Apr 08:00</text>
<text x="903.2" y="778.8" fill="#000" stroke="#000" font-size="9.3">14 Apr 16:00</text>
<text x="967.2" y="778.8" fill="#000" stroke="#000" font-size="9.3">16 Apr 00:00</text>
<text x="1031.2" y="778.8" fill="#000" stroke="#000" font-size="9.3">17 Apr 08:00</text>
<text x="1095.2" y="778.8" fill="#000" stroke="#000" font-size="9.3">20 Apr 12:00</text>
<text x="1159.2" y="778.8" fill="#000" stroke="#000" font-size="9.3">21 Apr 20:00</text>
<text x="1223.2" y="778.8" fill="#000" stroke="#000" font-size="9.3">23 Apr 04:00</text>
<text x="1287.2" y="778.8" fill="#000" stroke="#000" font-size="9.3">24 Apr 12:00</text>
<text x="1351.2" y="778.8" fill="#000" stroke="#000" font-size="9.3">27 Apr 16:00</text>
<text x="1415.2" y="778.8" fill="#000" stroke="#000" font-size="9.3">29 Apr 00:00</text>
<text x="1479.2" y="778.8" fill="#000" stroke="#000" font-size="9.3">30 Apr 08:00</text>
<text x="1543.2" y="778.8" fill="#000" stroke="#000" font-size="9.3">1 May 16:00</text>
<text x="1607.2" y="778.8" fill="#000" stroke="#000" font-size="9.3">4 May 20:00</text>
<text x="1689.5" y="71.5" fill="#000" stroke="#000" font-size="9">2942.855</text>
<text x="1689.5" y="104.5" fill="#000" stroke="#000" font-size="9">2885.225</text>
<text x="1689.5" y="137.5" fill="#000" stroke="#000" font-size="9">2829.290</text>
<text x="1689.5" y="170.5" fill="#000" stroke="#000" font-size="9">2773.355</text>
<text x="1689.5" y="203.5" fill="#000" stroke="#000" font-size="9">2717.420</text>
<text x="1689.5" y="236.5" fill="#000" stroke="#000" font-size="9">2661.485</text>
<text x="1689.5" y="269.5" fill="#000" stroke="#000" font-size="9">2605.550</text>
<text x="1689.5" y="302.5" fill="#000" stroke="#000" font-size="9">2549.615</text>
<text x="1689.5" y="335.5" fill="#000" stroke="#000" font-size="9">2491.985</text>
<text x="1689.5" y="368.5" fill="#000" stroke="#000" font-size="9">2436.050</text>
<text x="1689.5" y="401.5" fill="#000" stroke="#000" font-size="9">2380.115</text>
<text x="1689.5" y="434.5" fill="#000" stroke="#000" font-size="9">2324.180</text>
<text x="1689.5" y="468.5" fill="#000" stroke="#000" font-size="9">2268.245</text>
<text x="1689.5" y="501.5" fill="#000" stroke="#000" font-size="9">2212.310</text>
<text x="1689.5" y="534.5" fill="#000" stroke="#000" font-size="9">2156.375</text>
<text x="1687.2" y="545.9" fill="#000" stroke="#000" font-size="9">64.0093</text>
<text x="1687.2" y="592.8" fill="#000" stroke="#000" font-size="9">0.00</text>
<text x="1687.2" y="655.6" fill="#000" stroke="#000" font-size="9">-84.122</text>
<text x="1687.2" y="671.6" fill="#000" stroke="#000" font-size="9">100</text>
<text x="1687.2" y="697" fill="#000" stroke="#000" font-size="9">70</text>
<text x="1687.2" y="738.8" fill="#000" stroke="#000" font-size="9">30</text>
<text x="1687.2" y="762.9" fill="#000" stroke="#000" font-size="9">0</text>
<text x="23" y="42" fill="#000" stroke="#000" font-size="9.25">SP500-,H4&#160; 2863.000 2868.750 2860.250 2867.750</text>
<text x="12" y="548" fill="#000" stroke="#000" font-size="9.4">MACD(12,26,9) 1.5348 -6.8938</text>
<text x="12" y="674" fill="#000" stroke="#000" font-size="9.4">RSI(14) 54.4714</text>
<rect x="1685" y="107" width="43" height="11" fill="#000" shape-rendering="crispEdges"/>
<text x="1689.5" y="115.8" fill="#fff" stroke="#fff" font-size="9">2867.750</text>
<rect x="1685" y="101" width="43" height="11" fill="#32cd32" shape-rendering="crispEdges"/>
<text x="1689.5" y="109.8" fill="#fff" stroke="#fff" font-size="9">2875.000</text>
<rect x="1685" y="28" width="43" height="11" fill="#ff0000" shape-rendering="crispEdges"/>
<text x="1689.5" y="36.8" fill="#fff" stroke="#fff" font-size="9">3000.000</text>
<rect x="1685" y="187" width="43" height="11" fill="#4169e1" shape-rendering="crispEdges"/>
<text x="1689.5" y="195.8" fill="#fff" stroke="#fff" font-size="9">2730.000</text>
<rect x="1685" y="245" width="43" height="11" fill="#4169e1" shape-rendering="crispEdges"/>
<text x="1689.5" y="253.8" fill="#fff" stroke="#fff" font-size="9">2630.000</text>
<rect x="1685" y="310" width="43" height="11" fill="#4169e1" shape-rendering="crispEdges"/>
<text x="1689.5" y="318.8" fill="#fff" stroke="#fff" font-size="9">2520.000</text>
</g>
</svg>

<div id="tb">
<svg width="400" height="26" viewBox="0 0 400 26" style="position:absolute;left:0;top:0" shape-rendering="crispEdges">
<g stroke="#555" stroke-width="1" stroke-dasharray="1 1">
<line x1="4" y1="7.5" x2="17" y2="7.5"/><line x1="4" y1="10.5" x2="17" y2="10.5"/><line x1="4" y1="14.5" x2="17" y2="14.5"/><line x1="4" y1="18.5" x2="13" y2="18.5"/>
</g>
<g stroke="#444" stroke-width="1" stroke-dasharray="1 1" fill="none"><rect x="61.5" y="8.5" width="11" height="12"/></g>
<g shape-rendering="geometricPrecision">
<path d="M91.4 7.7 l3.5 3 l-3.5 2.2 l-3.5 -2.2 z M98.7 16.3 l3.5 2.2 l-3.5 3 l-3.5 -3 z" fill="#555"/>
<path d="M90.5 15.5 l2.2 2.2 l5 -5.5" stroke="#555" stroke-width="1.3" fill="none"/>
<path d="M109 13 h6 l-3 3.4 z" fill="#222"/>
</g>
<rect x="120" y="1" width="1" height="25" fill="#a0a0a0"/>
<g fill="#b0b0b0"><rect x="124" y="4" width="3" height="1"/><rect x="124" y="6" width="3" height="1"/><rect x="124" y="8" width="3" height="1"/><rect x="124" y="10" width="3" height="1"/><rect x="124" y="12" width="3" height="1"/><rect x="124" y="14" width="3" height="1"/><rect x="124" y="16" width="3" height="1"/><rect x="124" y="18" width="3" height="1"/><rect x="124" y="20" width="3" height="1"/><rect x="124" y="22" width="3" height="1"/></g>
<rect x="381" y="1" width="1" height="25" fill="#a0a0a0"/>
</svg>
<span class="ic" style="left:13.5px;top:17px;font-size:7px;font-weight:bold">F</span>
<span class="ic" style="left:34.5px;top:9.2px;font-size:12px;font-weight:bold;color:#555">A</span>
<span class="ic" style="left:63.5px;top:9.5px;font-size:11.5px;font-weight:bold;color:#555">T</span>
<div id="h4"></div>
<span class="tf" style="left:135px">M1</span><span class="tf" style="left:163px">M5</span><span class="tf" style="left:189px">M15</span><span class="tf" style="left:217.3px">M30</span><span class="tf" style="left:248px">H1</span><span class="tf" style="left:275px">H4</span><span class="tf" style="left:304.5px">D1</span><span class="tf" style="left:331.5px">W1</span><span class="tf" style="left:358.3px">MN</span>
</div>

<div id="note">多空转折点<span style="font-size:32.8px">2875</span></div>
</body></html>
